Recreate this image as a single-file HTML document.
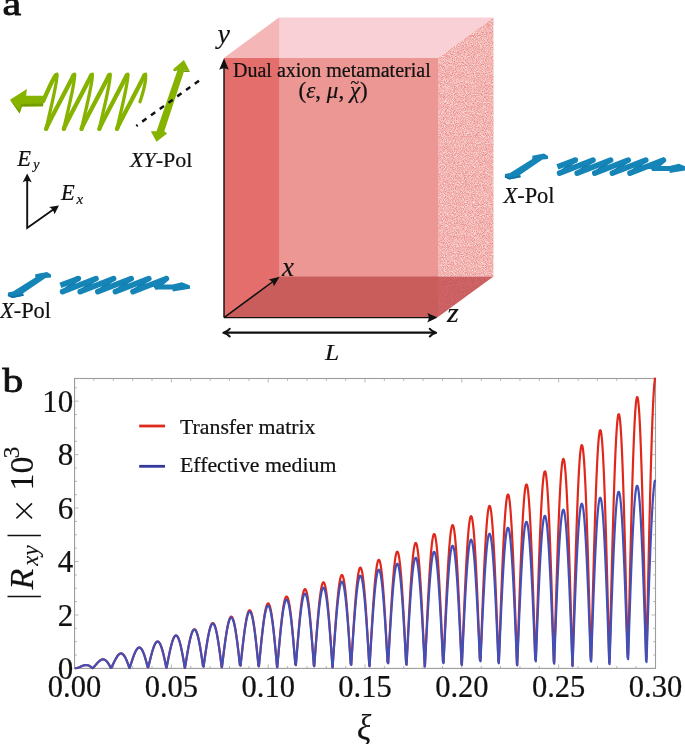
<!DOCTYPE html>
<html><head><meta charset="utf-8"><style>
html,body{margin:0;padding:0;background:#fff;}
body{width:685px;height:744px;overflow:hidden;}
svg{display:block;will-change:transform;}
text{font-family:"Liberation Serif",serif;fill:#111;stroke:#111;stroke-width:0.22px;}
.it{font-style:italic;}
.m, .m text{stroke-width:0.15px;}
</style></head><body>
<svg width="685" height="744" viewBox="0 0 685 744">
<defs>
<filter id="speck" x="0" y="0" width="1" height="1" color-interpolation-filters="sRGB">
 <feTurbulence type="fractalNoise" baseFrequency="1.1" numOctaves="2" seed="7" result="n"/>
 <feColorMatrix in="n" type="matrix" values="0.15 0 0 0 0.875  0.6 0 0 0 0.41  0.6 0 0 0 0.40  0 0 0 0 1" result="c"/>
 <feComposite in="c" in2="SourceGraphic" operator="in"/>
</filter>
<filter id="speck2" x="0" y="0" width="1" height="1" color-interpolation-filters="sRGB">
 <feTurbulence type="fractalNoise" baseFrequency="1.1" numOctaves="2" seed="9" result="n"/>
 <feColorMatrix in="n" type="matrix" values="0.12 0 0 0 0.74  0.14 0 0 0 0.31  0.14 0 0 0 0.32  0 0 0 0 1" result="c"/>
 <feComposite in="c" in2="SourceGraphic" operator="in"/>
</filter>
<clipPath id="plotclip"><rect x="74.55" y="377.5" width="581.45" height="291.9"/></clipPath>
<g id="bluegrp">
 <path d="M7.9,292.4 L13,291.6 L35.3,277.4 L35.3,274.2 L47,272 L51,274.6 L51,277.6 L45.5,278.1 L23.2,293.2 L23.6,295.7 L12.3,297.9 L7.9,296.1 Z" fill="#1584b7"/>
 <path d="M7.9,296.1 L12.3,297.9 L23.6,295.7 L23.4,294.2 L12.3,296.3 L7.9,294.5Z" fill="#0f72a2"/>
 <path d="M78.6,278.6 L62.9,291.5 M96.2,278.6 L80.5,291.5 M113.8,278.6 L98.1,291.5 M131.4,278.6 L115.7,291.5 M149.0,278.6 L133.3,291.5" fill="none" stroke="#1179aa" stroke-width="3.5" stroke-linecap="round"/>
 <path d="M62.6,291.7 L96.0,278.6 M80.2,291.7 L113.6,278.6 M97.8,291.7 L131.2,278.6 M115.4,291.7 L148.8,278.6 M133.0,291.7 L166.4,278.6 M166.1,278.8 L156.8,286.6" fill="none" stroke="#1584b7" stroke-width="5.6" stroke-linejoin="round" stroke-linecap="round"/>
 <path d="M60.4,285.3 L78.3,278.6" fill="none" stroke="#1584b7" stroke-width="5.6" stroke-linecap="butt"/>
 <circle cx="78.3" cy="278.6" r="2.8" fill="#1584b7"/>
 <path d="M155,284.6 L172.6,284.4 L181.9,282.2 L190,285.5 L190,288.8 L172.6,291.5 L172.6,289.4 L155,289.6 Z" fill="#1584b7"/>
</g>
</defs>

<!-- ===== panel a ===== -->
<text x="2.4" y="15.2" transform="translate(2.4,0) scale(1.24,1) translate(-2.4,0)" style="font-size:34px;stroke:#111;stroke-width:0.8px">a</text>

<!-- box -->
<polygon points="224,58 279.1,17.5 493.5,17.5 438,58" fill="#f9d0d5"/>
<polygon points="224,58 279.1,17.5 279.1,58" fill="#f4b6b7"/>
<rect x="224" y="58" width="214" height="259" fill="#ec9794"/>
<polygon points="224,58 279.1,58 279.1,276.5 224,317" fill="#e46e6b"/>
<polygon points="224,317 279.1,276.5 438,276.5 438,317" fill="#c95d5b"/>
<polygon points="438,58 493.5,17.5 493.5,276.5 438,276.5" fill="#f2b8b9" filter="url(#speck)"/>
<polygon points="438,276.5 493.5,276.5 438,317" fill="#cc6262" filter="url(#speck2)"/>

<!-- axes on box -->
<g stroke="#111" stroke-width="1.45" fill="none">
<line x1="224" y1="317.6" x2="224" y2="64"/>
<line x1="224" y1="317.6" x2="432" y2="317.6"/>
<line x1="224" y1="317.6" x2="275" y2="280"/>
<line x1="226" y1="332.7" x2="434" y2="332.7" stroke-width="2.3"/>
<path d="M429.8,328.9 Q432.2,331.7 436.1,332.7 Q432.2,333.7 429.8,336.5" stroke-width="2.1" stroke-linecap="round" stroke-linejoin="round"/>
<path d="M229.7,328.9 Q227.3,331.7 223.4,332.7 Q227.3,333.7 229.7,336.5" stroke-width="2.1" stroke-linecap="round" stroke-linejoin="round"/>
</g>
<g fill="#111">
<path d="M224,58.3 L219.2,69.8 Q224,66.5 228.8,69.8 Z"/>
<path d="M437.6,317.6 L427.2,312.9 Q430.3,317.6 427.2,322.5 Z"/>
<path d="M279.6,276.7 L268.8,279.6 Q273.6,281.8 273.8,286.6 Z"/>
</g>
<text class="it m" x="217.6" y="43" style="font-size:28px">y</text>
<text class="it m" x="282" y="275.6" style="font-size:27px">x</text>
<text class="it m" x="447" y="322" transform="translate(447,0) scale(1.12,1) translate(-447,0)" style="font-size:27px">z</text>
<text class="it m" x="325" y="359.7" transform="translate(325,0) scale(1.13,1) translate(-325,0)" style="font-size:22.5px">L</text>
<text x="233" y="76.7" style="font-size:20px">Dual axion metamaterial</text>
<text x="298.6" y="97.6" style="font-size:23px">(<tspan class="it">ε</tspan>, <tspan class="it">μ</tspan>, <tspan class="it">χ</tspan>)</text>
<text x="350.6" y="88.4" style="font-size:16px">~</text>

<!-- green wave -->
<polygon points="10,99.7 26.9,89.1 26.2,95.7 44,95.7 43,106.3 21.8,106.6 19.6,113.6" fill="#86b300"/>
<polygon points="10,99.7 19.6,113.6 21.8,106.6 43,106.3 43.3,103.6 21,104 19.4,110.4" fill="#739c00"/>
<g fill="none" stroke="#86b300" stroke-linecap="round">
<path d="M43.2,101 C47,93 52,80 55.7,75.4 M46.1,128.9 C47.1,124.9 70.6,82.2 73.4,75.4 M63.8,128.9 C64.8,124.9 88.3,82.2 91.1,75.4 M81.5,128.9 C82.5,124.9 106.1,82.2 108.9,75.4 M99.3,128.9 C100.3,124.9 123.8,82.2 126.6,75.4 M117.0,128.9 C118.0,124.9 141.5,82.2 144.3,75.4" stroke-width="4.3"/>
<path d="M56.9,74.2 C58.1,80.2 49.1,114.9 46.1,128.9 M74.6,74.2 C75.8,80.2 66.8,114.9 63.8,128.9 M92.3,74.2 C93.5,80.2 84.5,114.9 81.5,128.9 M110.1,74.2 C111.3,80.2 102.3,114.9 99.3,128.9 M127.8,74.2 C129.0,80.2 120.0,114.9 117.0,128.9 M145.5,74.2 C146.3,79.2 143.5,91.2 140,101.8" stroke-width="3.3"/>
</g>
<g fill="#86b300"><circle cx="56.5" cy="75.1" r="2.05"/><circle cx="74.2" cy="75.1" r="2.05"/><circle cx="91.9" cy="75.1" r="2.05"/><circle cx="109.7" cy="75.1" r="2.05"/><circle cx="127.4" cy="75.1" r="2.05"/><circle cx="145.1" cy="75.1" r="2.05"/><circle cx="46.5" cy="128.0" r="1.9"/><circle cx="64.2" cy="128.0" r="1.9"/><circle cx="81.9" cy="128.0" r="1.9"/><circle cx="99.7" cy="128.0" r="1.9"/><circle cx="117.4" cy="128.0" r="1.9"/></g>
<!-- green double arrow -->
<polygon points="183.9,60.1 189.5,70.5 184.3,70.6 164.3,131.2 167.1,133.6 156.5,141.8 150.8,131.2 156.5,131.2 177.4,70.6 173.1,69.3" fill="#86b300"/>
<polygon points="173.1,69.3 177.4,70.6 174,71.2" fill="#6f9800"/>
<polygon points="184.3,70.6 189.5,70.5 189.6,72 184,72" fill="#6f9800"/>
<line x1="136.3" y1="125.9" x2="199" y2="80.7" stroke="#111" stroke-width="2.5" stroke-dasharray="5.2 5.6" stroke-dashoffset="3.5"/>
<text x="130" y="166.9" style="font-size:22px"><tspan class="it">XY</tspan>-Pol</text>

<!-- E axes -->
<g stroke="#111" stroke-width="1.9" fill="none">
<polyline points="27.2,180 27.2,228 54,209"/>
</g>
<g fill="#111">
<path d="M27.2,173.6 L22.6,182.4 Q27.2,179.6 31.8,182.4 Z"/>
<path d="M59,205.6 L49.2,206.9 Q53.6,209.2 54.5,214.2 Z"/>
</g>
<text class="it" x="17.2" y="166" style="font-size:22.5px">E</text>
<text class="it" x="33.2" y="168.8" style="font-size:14px">y</text>
<text class="it" x="61" y="200" style="font-size:22.5px">E</text>
<text class="it" x="76.6" y="203.6" style="font-size:15px">x</text>

<!-- blue groups -->
<use href="#bluegrp"/>
<use href="#bluegrp" transform="translate(497,-118.5)"/>
<text x="0" y="317.8" style="font-size:22.4px"><tspan class="it">X</tspan>-Pol</text>
<text x="503.5" y="202.5" style="font-size:22.4px"><tspan class="it">X</tspan>-Pol</text>

<!-- ===== panel b ===== -->
<text x="2.4" y="391.7" transform="translate(2.4,0) scale(1.26,1) translate(-2.4,0)" style="font-size:33px;stroke:#111;stroke-width:0.8px">b</text>
<g stroke="#b8b8b8" stroke-width="1">
<line x1="74.55" y1="668.40" x2="78.55" y2="668.40"/>
<line x1="655.5" y1="668.40" x2="651.5" y2="668.40"/>
<line x1="74.55" y1="655.04" x2="76.95" y2="655.04"/>
<line x1="655.5" y1="655.04" x2="653.1" y2="655.04"/>
<line x1="74.55" y1="641.68" x2="76.95" y2="641.68"/>
<line x1="655.5" y1="641.68" x2="653.1" y2="641.68"/>
<line x1="74.55" y1="628.32" x2="76.95" y2="628.32"/>
<line x1="655.5" y1="628.32" x2="653.1" y2="628.32"/>
<line x1="74.55" y1="614.96" x2="78.55" y2="614.96"/>
<line x1="655.5" y1="614.96" x2="651.5" y2="614.96"/>
<line x1="74.55" y1="601.60" x2="76.95" y2="601.60"/>
<line x1="655.5" y1="601.60" x2="653.1" y2="601.60"/>
<line x1="74.55" y1="588.24" x2="76.95" y2="588.24"/>
<line x1="655.5" y1="588.24" x2="653.1" y2="588.24"/>
<line x1="74.55" y1="574.88" x2="76.95" y2="574.88"/>
<line x1="655.5" y1="574.88" x2="653.1" y2="574.88"/>
<line x1="74.55" y1="561.52" x2="78.55" y2="561.52"/>
<line x1="655.5" y1="561.52" x2="651.5" y2="561.52"/>
<line x1="74.55" y1="548.16" x2="76.95" y2="548.16"/>
<line x1="655.5" y1="548.16" x2="653.1" y2="548.16"/>
<line x1="74.55" y1="534.80" x2="76.95" y2="534.80"/>
<line x1="655.5" y1="534.80" x2="653.1" y2="534.80"/>
<line x1="74.55" y1="521.44" x2="76.95" y2="521.44"/>
<line x1="655.5" y1="521.44" x2="653.1" y2="521.44"/>
<line x1="74.55" y1="508.08" x2="78.55" y2="508.08"/>
<line x1="655.5" y1="508.08" x2="651.5" y2="508.08"/>
<line x1="74.55" y1="494.72" x2="76.95" y2="494.72"/>
<line x1="655.5" y1="494.72" x2="653.1" y2="494.72"/>
<line x1="74.55" y1="481.36" x2="76.95" y2="481.36"/>
<line x1="655.5" y1="481.36" x2="653.1" y2="481.36"/>
<line x1="74.55" y1="468.00" x2="76.95" y2="468.00"/>
<line x1="655.5" y1="468.00" x2="653.1" y2="468.00"/>
<line x1="74.55" y1="454.64" x2="78.55" y2="454.64"/>
<line x1="655.5" y1="454.64" x2="651.5" y2="454.64"/>
<line x1="74.55" y1="441.28" x2="76.95" y2="441.28"/>
<line x1="655.5" y1="441.28" x2="653.1" y2="441.28"/>
<line x1="74.55" y1="427.92" x2="76.95" y2="427.92"/>
<line x1="655.5" y1="427.92" x2="653.1" y2="427.92"/>
<line x1="74.55" y1="414.56" x2="76.95" y2="414.56"/>
<line x1="655.5" y1="414.56" x2="653.1" y2="414.56"/>
<line x1="74.55" y1="401.20" x2="78.55" y2="401.20"/>
<line x1="655.5" y1="401.20" x2="651.5" y2="401.20"/>
<line x1="74.55" y1="387.84" x2="76.95" y2="387.84"/>
<line x1="655.5" y1="387.84" x2="653.1" y2="387.84"/>
<line x1="74.55" y1="668.4" x2="74.55" y2="664.4"/>
<line x1="74.55" y1="378.5" x2="74.55" y2="382.5"/>
<line x1="93.91" y1="668.4" x2="93.91" y2="666.0"/>
<line x1="93.91" y1="378.5" x2="93.91" y2="380.9"/>
<line x1="113.28" y1="668.4" x2="113.28" y2="666.0"/>
<line x1="113.28" y1="378.5" x2="113.28" y2="380.9"/>
<line x1="132.65" y1="668.4" x2="132.65" y2="666.0"/>
<line x1="132.65" y1="378.5" x2="132.65" y2="380.9"/>
<line x1="152.01" y1="668.4" x2="152.01" y2="666.0"/>
<line x1="152.01" y1="378.5" x2="152.01" y2="380.9"/>
<line x1="171.38" y1="668.4" x2="171.38" y2="664.4"/>
<line x1="171.38" y1="378.5" x2="171.38" y2="382.5"/>
<line x1="190.74" y1="668.4" x2="190.74" y2="666.0"/>
<line x1="190.74" y1="378.5" x2="190.74" y2="380.9"/>
<line x1="210.11" y1="668.4" x2="210.11" y2="666.0"/>
<line x1="210.11" y1="378.5" x2="210.11" y2="380.9"/>
<line x1="229.47" y1="668.4" x2="229.47" y2="666.0"/>
<line x1="229.47" y1="378.5" x2="229.47" y2="380.9"/>
<line x1="248.84" y1="668.4" x2="248.84" y2="666.0"/>
<line x1="248.84" y1="378.5" x2="248.84" y2="380.9"/>
<line x1="268.20" y1="668.4" x2="268.20" y2="664.4"/>
<line x1="268.20" y1="378.5" x2="268.20" y2="382.5"/>
<line x1="287.56" y1="668.4" x2="287.56" y2="666.0"/>
<line x1="287.56" y1="378.5" x2="287.56" y2="380.9"/>
<line x1="306.93" y1="668.4" x2="306.93" y2="666.0"/>
<line x1="306.93" y1="378.5" x2="306.93" y2="380.9"/>
<line x1="326.30" y1="668.4" x2="326.30" y2="666.0"/>
<line x1="326.30" y1="378.5" x2="326.30" y2="380.9"/>
<line x1="345.66" y1="668.4" x2="345.66" y2="666.0"/>
<line x1="345.66" y1="378.5" x2="345.66" y2="380.9"/>
<line x1="365.03" y1="668.4" x2="365.03" y2="664.4"/>
<line x1="365.03" y1="378.5" x2="365.03" y2="382.5"/>
<line x1="384.39" y1="668.4" x2="384.39" y2="666.0"/>
<line x1="384.39" y1="378.5" x2="384.39" y2="380.9"/>
<line x1="403.76" y1="668.4" x2="403.76" y2="666.0"/>
<line x1="403.76" y1="378.5" x2="403.76" y2="380.9"/>
<line x1="423.12" y1="668.4" x2="423.12" y2="666.0"/>
<line x1="423.12" y1="378.5" x2="423.12" y2="380.9"/>
<line x1="442.49" y1="668.4" x2="442.49" y2="666.0"/>
<line x1="442.49" y1="378.5" x2="442.49" y2="380.9"/>
<line x1="461.85" y1="668.4" x2="461.85" y2="664.4"/>
<line x1="461.85" y1="378.5" x2="461.85" y2="382.5"/>
<line x1="481.22" y1="668.4" x2="481.22" y2="666.0"/>
<line x1="481.22" y1="378.5" x2="481.22" y2="380.9"/>
<line x1="500.58" y1="668.4" x2="500.58" y2="666.0"/>
<line x1="500.58" y1="378.5" x2="500.58" y2="380.9"/>
<line x1="519.95" y1="668.4" x2="519.95" y2="666.0"/>
<line x1="519.95" y1="378.5" x2="519.95" y2="380.9"/>
<line x1="539.31" y1="668.4" x2="539.31" y2="666.0"/>
<line x1="539.31" y1="378.5" x2="539.31" y2="380.9"/>
<line x1="558.68" y1="668.4" x2="558.68" y2="664.4"/>
<line x1="558.68" y1="378.5" x2="558.68" y2="382.5"/>
<line x1="578.04" y1="668.4" x2="578.04" y2="666.0"/>
<line x1="578.04" y1="378.5" x2="578.04" y2="380.9"/>
<line x1="597.41" y1="668.4" x2="597.41" y2="666.0"/>
<line x1="597.41" y1="378.5" x2="597.41" y2="380.9"/>
<line x1="616.77" y1="668.4" x2="616.77" y2="666.0"/>
<line x1="616.77" y1="378.5" x2="616.77" y2="380.9"/>
<line x1="636.13" y1="668.4" x2="636.13" y2="666.0"/>
<line x1="636.13" y1="378.5" x2="636.13" y2="380.9"/>
<line x1="655.50" y1="668.4" x2="655.50" y2="664.4"/>
<line x1="655.50" y1="378.5" x2="655.50" y2="382.5"/>
</g>
<rect x="74.55" y="378.5" width="580.95" height="289.90" fill="none" stroke="#9c9c9c" stroke-width="1.1"/>
<g clip-path="url(#plotclip)" fill="none" stroke-width="2.2" stroke-linejoin="round">
<path d="M74.55,668.40 L74.80,668.39 L75.05,668.37 L75.30,668.35 L75.55,668.32 L75.80,668.29 L76.05,668.24 L76.30,668.20 L76.55,668.14 L76.80,668.08 L77.05,668.01 L77.30,667.94 L77.55,667.87 L77.80,667.79 L78.05,667.70 L78.30,667.61 L78.55,667.52 L78.80,667.42 L79.05,667.32 L79.30,667.22 L79.55,667.11 L79.80,667.00 L80.05,666.89 L80.30,666.78 L80.55,666.67 L80.80,666.56 L81.05,666.46 L81.30,666.35 L81.55,666.24 L81.80,666.13 L82.05,666.03 L82.30,665.93 L82.55,665.83 L82.80,665.74 L83.05,665.65 L83.30,665.56 L83.55,665.48 L83.80,665.41 L84.05,665.34 L84.30,665.28 L84.55,665.22 L84.80,665.18 L85.05,665.14 L85.30,665.10 L85.55,665.08 L85.80,665.06 L86.05,665.05 L86.30,665.06 L86.55,665.07 L86.80,665.09 L87.05,665.12 L87.30,665.16 L87.55,665.21 L87.80,665.27 L88.05,665.34 L88.30,665.42 L88.55,665.52 L88.80,665.62 L89.05,665.73 L89.30,665.86 L89.55,665.99 L89.80,666.13 L90.05,666.29 L90.30,666.45 L90.55,666.63 L90.80,666.81 L91.05,667.01 L91.30,667.21 L91.55,667.42 L91.80,667.64 L92.52,668.32 L92.66,668.34 L93.30,667.67 L93.55,667.41 L93.80,667.13 L94.05,666.85 L94.30,666.57 L94.55,666.28 L94.80,666.00 L95.05,665.71 L95.30,665.41 L95.55,665.12 L95.80,664.83 L96.05,664.54 L96.30,664.24 L96.55,663.96 L96.80,663.67 L97.05,663.39 L97.30,663.11 L97.55,662.83 L97.80,662.56 L98.05,662.30 L98.30,662.05 L98.55,661.80 L98.80,661.56 L99.05,661.33 L99.30,661.11 L99.55,660.90 L99.80,660.70 L100.05,660.51 L100.30,660.33 L100.55,660.17 L100.80,660.02 L101.05,659.88 L101.30,659.76 L101.55,659.66 L101.80,659.57 L102.05,659.49 L102.30,659.43 L102.55,659.39 L102.80,659.37 L103.05,659.36 L103.30,659.37 L103.55,659.40 L103.80,659.45 L104.05,659.51 L104.30,659.60 L104.55,659.70 L104.80,659.82 L105.05,659.97 L105.30,660.13 L105.55,660.30 L105.80,660.50 L106.05,660.72 L106.30,660.95 L106.55,661.20 L106.80,661.47 L107.05,661.76 L107.30,662.07 L107.55,662.39 L107.80,662.73 L108.05,663.09 L108.30,663.46 L108.55,663.84 L108.80,664.24 L109.05,664.66 L109.30,665.09 L109.55,665.53 L109.80,665.98 L110.05,666.44 L110.30,666.92 L110.78,667.85 L111.28,667.95 L111.80,666.87 L112.05,666.35 L112.30,665.82 L112.55,665.30 L112.80,664.77 L113.05,664.24 L113.30,663.71 L113.55,663.19 L113.80,662.67 L114.05,662.15 L114.30,661.64 L114.55,661.13 L114.80,660.63 L115.05,660.14 L115.30,659.66 L115.55,659.19 L115.80,658.74 L116.05,658.29 L116.30,657.86 L116.55,657.44 L116.80,657.04 L117.05,656.66 L117.30,656.29 L117.55,655.94 L117.80,655.61 L118.05,655.30 L118.30,655.02 L118.55,654.75 L118.80,654.51 L119.05,654.29 L119.30,654.10 L119.55,653.93 L119.80,653.78 L120.05,653.66 L120.30,653.57 L120.55,653.50 L120.80,653.47 L121.05,653.45 L121.30,653.47 L121.55,653.52 L121.80,653.59 L122.05,653.69 L122.30,653.82 L122.55,653.98 L122.80,654.17 L123.05,654.39 L123.30,654.64 L123.55,654.91 L123.80,655.21 L124.05,655.54 L124.30,655.90 L124.55,656.28 L124.80,656.69 L125.05,657.13 L125.30,657.59 L125.55,658.08 L125.80,658.59 L126.05,659.12 L126.30,659.68 L126.55,660.26 L126.80,660.86 L127.05,661.48 L127.30,662.12 L127.55,662.77 L127.80,663.44 L128.05,664.13 L128.30,664.83 L128.55,665.55 L128.80,666.28 L129.36,667.93 L129.64,668.02 L130.30,665.98 L130.55,665.21 L130.80,664.43 L131.05,663.66 L131.30,662.88 L131.55,662.11 L131.80,661.35 L132.05,660.59 L132.30,659.84 L132.55,659.10 L132.80,658.37 L133.05,657.65 L133.30,656.95 L133.55,656.26 L133.80,655.59 L134.05,654.94 L134.30,654.30 L134.55,653.69 L134.80,653.10 L135.05,652.53 L135.30,651.99 L135.55,651.47 L135.80,650.98 L136.05,650.52 L136.30,650.08 L136.55,649.68 L136.80,649.31 L137.05,648.97 L137.30,648.67 L137.55,648.39 L137.80,648.16 L138.05,647.96 L138.30,647.79 L138.55,647.66 L138.80,647.57 L139.05,647.52 L139.30,647.50 L139.55,647.53 L139.80,647.59 L140.05,647.69 L140.30,647.83 L140.55,648.01 L140.80,648.23 L141.05,648.49 L141.30,648.78 L141.55,649.12 L141.80,649.49 L142.05,649.90 L142.30,650.35 L142.55,650.83 L142.80,651.35 L143.05,651.91 L143.30,652.50 L143.55,653.12 L143.80,653.78 L144.05,654.46 L144.30,655.18 L144.55,655.93 L144.80,656.71 L145.05,657.51 L145.30,658.34 L145.55,659.19 L145.80,660.07 L146.05,660.97 L146.30,661.88 L146.55,662.82 L146.80,663.77 L147.05,664.74 L147.30,665.72 L147.61,666.98 L148.25,667.25 L148.80,665.00 L149.05,663.98 L149.30,662.95 L149.55,661.93 L149.80,660.92 L150.05,659.91 L150.30,658.91 L150.55,657.92 L150.80,656.94 L151.05,655.98 L151.30,655.03 L151.55,654.10 L151.80,653.19 L152.05,652.31 L152.30,651.45 L152.55,650.61 L152.80,649.80 L153.05,649.02 L153.30,648.27 L153.55,647.55 L153.80,646.87 L154.05,646.22 L154.30,645.61 L154.55,645.03 L154.80,644.50 L155.05,644.00 L155.30,643.55 L155.55,643.14 L155.80,642.78 L156.05,642.45 L156.30,642.18 L156.55,641.95 L156.80,641.77 L157.05,641.63 L157.30,641.54 L157.55,641.51 L157.80,641.52 L158.05,641.58 L158.30,641.69 L158.55,641.85 L158.80,642.06 L159.05,642.32 L159.30,642.63 L159.55,642.99 L159.80,643.39 L160.05,643.85 L160.30,644.35 L160.55,644.90 L160.80,645.49 L161.05,646.14 L161.30,646.82 L161.55,647.55 L161.80,648.32 L162.05,649.14 L162.30,649.99 L162.55,650.88 L162.80,651.81 L163.05,652.78 L163.30,653.78 L163.55,654.81 L163.80,655.87 L164.05,656.96 L164.30,658.08 L164.55,659.22 L164.80,660.39 L165.05,661.58 L165.30,662.79 L165.55,664.01 L165.80,665.25 L166.19,667.23 L166.61,667.46 L167.05,665.21 L167.30,663.93 L167.55,662.65 L167.80,661.37 L168.05,660.10 L168.30,658.84 L168.55,657.58 L168.80,656.34 L169.05,655.12 L169.30,653.92 L169.55,652.73 L169.80,651.57 L170.05,650.43 L170.30,649.32 L170.55,648.23 L170.80,647.18 L171.05,646.16 L171.30,645.18 L171.55,644.23 L171.80,643.33 L172.05,642.46 L172.30,641.64 L172.55,640.86 L172.80,640.13 L173.05,639.44 L173.30,638.81 L173.55,638.22 L173.80,637.69 L174.05,637.21 L174.30,636.79 L174.55,636.42 L174.80,636.11 L175.05,635.86 L175.30,635.66 L175.55,635.52 L175.80,635.45 L176.05,635.43 L176.30,635.47 L176.55,635.57 L176.80,635.74 L177.05,635.96 L177.30,636.25 L177.55,636.59 L177.80,636.99 L178.05,637.46 L178.30,637.98 L178.55,638.56 L178.80,639.20 L179.05,639.89 L179.30,640.64 L179.55,641.45 L179.80,642.30 L180.05,643.21 L180.30,644.17 L180.55,645.18 L180.80,646.24 L181.05,647.34 L181.30,648.48 L181.55,649.67 L181.80,650.89 L182.05,652.16 L182.30,653.46 L182.55,654.79 L182.80,656.16 L183.05,657.55 L183.30,658.97 L183.55,660.41 L183.80,661.88 L184.05,663.36 L184.77,667.73 L184.97,667.87 L185.55,664.29 L185.80,662.75 L186.05,661.22 L186.30,659.69 L186.55,658.17 L186.80,656.66 L187.05,655.16 L187.30,653.69 L187.55,652.23 L187.80,650.80 L188.05,649.39 L188.30,648.01 L188.55,646.66 L188.80,645.34 L189.05,644.06 L189.30,642.82 L189.55,641.63 L189.80,640.47 L190.05,639.36 L190.30,638.30 L190.55,637.29 L190.80,636.33 L191.05,635.42 L191.30,634.57 L191.55,633.78 L191.80,633.05 L192.05,632.38 L192.30,631.77 L192.55,631.23 L192.80,630.75 L193.05,630.34 L193.30,630.00 L193.55,629.72 L193.80,629.52 L194.05,629.38 L194.30,629.32 L194.55,629.32 L194.80,629.40 L195.05,629.55 L195.30,629.77 L195.55,630.06 L195.80,630.42 L196.05,630.86 L196.30,631.36 L196.55,631.93 L196.80,632.58 L197.05,633.29 L197.30,634.06 L197.55,634.91 L197.80,635.81 L198.05,636.78 L198.30,637.82 L198.55,638.91 L198.80,640.06 L199.05,641.27 L199.30,642.53 L199.55,643.84 L199.80,645.21 L200.05,646.62 L200.30,648.07 L200.55,649.57 L200.80,651.11 L201.05,652.69 L201.30,654.30 L201.55,655.95 L201.80,657.62 L202.05,659.32 L202.30,661.05 L202.55,662.79 L203.03,666.21 L203.58,666.64 L204.05,663.28 L204.30,661.48 L204.55,659.69 L204.80,657.90 L205.05,656.13 L205.30,654.37 L205.55,652.63 L205.80,650.92 L206.05,649.22 L206.30,647.56 L206.55,645.93 L206.80,644.33 L207.05,642.77 L207.30,641.25 L207.55,639.77 L207.80,638.34 L208.05,636.96 L208.30,635.63 L208.55,634.35 L208.80,633.13 L209.05,631.97 L209.30,630.88 L209.55,629.84 L209.80,628.88 L210.05,627.98 L210.30,627.15 L210.55,626.39 L210.80,625.71 L211.05,625.10 L211.30,624.57 L211.55,624.12 L211.80,623.74 L212.05,623.45 L212.30,623.23 L212.55,623.10 L212.80,623.05 L213.05,623.08 L213.30,623.20 L213.55,623.40 L213.80,623.67 L214.05,624.04 L214.30,624.48 L214.55,625.01 L214.80,625.61 L215.05,626.30 L215.30,627.07 L215.55,627.91 L215.80,628.83 L216.05,629.83 L216.30,630.90 L216.55,632.04 L216.80,633.26 L217.05,634.54 L217.30,635.89 L217.55,637.30 L217.80,638.77 L218.05,640.31 L218.30,641.90 L218.55,643.54 L218.80,645.24 L219.05,646.98 L219.30,648.77 L219.55,650.60 L219.80,652.47 L220.05,654.38 L220.30,656.32 L220.55,658.28 L220.80,660.28 L221.05,662.29 L221.61,666.88 L221.94,667.18 L222.55,662.16 L222.80,660.10 L223.05,658.04 L223.30,655.99 L223.55,653.96 L223.80,651.95 L224.05,649.96 L224.30,648.00 L224.55,646.07 L224.80,644.17 L225.05,642.31 L225.30,640.49 L225.55,638.71 L225.80,636.98 L226.05,635.31 L226.30,633.68 L226.55,632.12 L226.80,630.62 L227.05,629.17 L227.30,627.80 L227.55,626.50 L227.80,625.26 L228.05,624.10 L228.30,623.02 L228.55,622.02 L228.80,621.09 L229.05,620.26 L229.30,619.50 L229.55,618.83 L229.80,618.25 L230.05,617.76 L230.30,617.36 L230.55,617.05 L230.80,616.83 L231.05,616.71 L231.30,616.68 L231.55,616.74 L231.80,616.90 L232.05,617.15 L232.30,617.50 L232.55,617.94 L232.80,618.47 L233.05,619.09 L233.30,619.81 L233.55,620.62 L233.80,621.52 L234.05,622.50 L234.30,623.58 L234.55,624.73 L234.80,625.97 L235.05,627.30 L235.30,628.70 L235.55,630.17 L235.80,631.73 L236.05,633.35 L236.30,635.04 L236.55,636.80 L236.80,638.63 L237.05,640.51 L237.30,642.45 L237.55,644.44 L237.80,646.48 L238.05,648.57 L238.30,650.71 L238.55,652.88 L238.80,655.08 L239.05,657.32 L239.30,659.59 L239.55,661.88 L239.87,664.84 L240.56,665.54 L241.05,660.94 L241.30,658.60 L241.55,656.28 L241.80,653.97 L242.05,651.68 L242.30,649.41 L242.55,647.17 L242.80,644.96 L243.05,642.79 L243.30,640.66 L243.55,638.57 L243.80,636.53 L244.05,634.54 L244.30,632.60 L244.55,630.72 L244.80,628.91 L245.05,627.16 L245.30,625.49 L245.55,623.88 L245.80,622.35 L246.05,620.90 L246.30,619.54 L246.55,618.25 L246.80,617.06 L247.05,615.95 L247.30,614.94 L247.55,614.02 L247.80,613.19 L248.05,612.47 L248.30,611.84 L248.55,611.31 L248.80,610.89 L249.05,610.57 L249.30,610.35 L249.55,610.24 L249.80,610.23 L250.05,610.33 L250.30,610.53 L250.55,610.84 L250.80,611.25 L251.05,611.77 L251.30,612.40 L251.55,613.12 L251.80,613.95 L252.05,614.88 L252.30,615.91 L252.55,617.04 L252.80,618.27 L253.05,619.59 L253.30,621.01 L253.55,622.51 L253.80,624.10 L254.05,625.78 L254.30,627.54 L254.55,629.38 L254.80,631.30 L255.05,633.29 L255.30,635.35 L255.55,637.48 L255.80,639.67 L256.05,641.92 L256.30,644.22 L256.55,646.57 L256.80,648.97 L257.05,651.42 L257.30,653.90 L257.55,656.42 L257.80,658.96 L258.05,661.53 L258.45,665.68 L258.92,666.22 L259.55,659.59 L259.80,656.98 L260.05,654.38 L260.30,651.80 L260.55,649.24 L260.80,646.70 L261.05,644.20 L261.30,641.74 L261.55,639.32 L261.80,636.94 L262.05,634.61 L262.30,632.34 L262.55,630.13 L262.80,627.98 L263.05,625.90 L263.30,623.88 L263.55,621.95 L263.80,620.09 L264.05,618.31 L264.30,616.62 L264.55,615.02 L264.80,613.51 L265.05,612.10 L265.30,610.78 L265.55,609.57 L265.80,608.46 L266.05,607.45 L266.30,606.55 L266.55,605.77 L266.80,605.09 L267.05,604.53 L267.30,604.08 L267.55,603.75 L267.80,603.53 L268.05,603.43 L268.30,603.45 L268.55,603.58 L268.80,603.84 L269.05,604.21 L269.30,604.70 L269.55,605.31 L269.80,606.03 L270.05,606.87 L270.30,607.83 L270.55,608.89 L270.80,610.07 L271.05,611.35 L271.30,612.75 L271.55,614.25 L271.80,615.85 L272.05,617.55 L272.30,619.35 L272.55,621.24 L272.80,623.22 L273.05,625.30 L273.30,627.45 L273.55,629.69 L273.80,632.00 L274.05,634.38 L274.30,636.84 L274.55,639.36 L274.80,641.93 L275.05,644.57 L275.30,647.25 L275.55,649.98 L275.80,652.75 L276.05,655.55 L276.30,658.39 L276.55,661.25 L277.03,666.80 L277.28,667.12 L277.80,661.02 L278.05,658.11 L278.30,655.21 L278.55,652.33 L278.80,649.47 L279.05,646.63 L279.30,643.83 L279.55,641.06 L279.80,638.34 L280.05,635.66 L280.30,633.03 L280.55,630.46 L280.80,627.96 L281.05,625.52 L281.30,623.15 L281.55,620.86 L281.80,618.65 L282.05,616.52 L282.30,614.48 L282.55,612.53 L282.80,610.68 L283.05,608.93 L283.30,607.28 L283.55,605.74 L283.80,604.31 L284.05,602.99 L284.30,601.79 L284.55,600.71 L284.80,599.74 L285.05,598.90 L285.30,598.18 L285.55,597.58 L285.80,597.12 L286.05,596.78 L286.30,596.57 L286.55,596.49 L286.80,596.53 L287.05,596.71 L287.30,597.02 L287.55,597.46 L287.80,598.03 L288.05,598.72 L288.30,599.55 L288.55,600.50 L288.80,601.58 L289.05,602.79 L289.30,604.11 L289.55,605.56 L289.80,607.13 L290.05,608.81 L290.30,610.60 L290.55,612.50 L290.80,614.51 L291.05,616.63 L291.30,618.84 L291.55,621.15 L291.80,623.55 L292.05,626.04 L292.30,628.61 L292.55,631.26 L292.80,633.99 L293.05,636.78 L293.30,639.65 L293.55,642.57 L293.80,645.54 L294.05,648.57 L294.30,651.64 L294.55,654.74 L294.80,657.88 L295.29,664.10 L295.89,664.94 L296.30,659.69 L296.55,656.48 L296.80,653.28 L297.05,650.10 L297.30,646.95 L297.55,643.82 L297.80,640.74 L298.05,637.69 L298.30,634.69 L298.55,631.75 L298.80,628.86 L299.05,626.04 L299.30,623.29 L299.55,620.61 L299.80,618.01 L300.05,615.50 L300.30,613.08 L300.55,610.75 L300.80,608.52 L301.05,606.39 L301.30,604.37 L301.55,602.46 L301.80,600.66 L302.05,598.99 L302.30,597.43 L302.55,596.00 L302.80,594.70 L303.05,593.53 L303.30,592.49 L303.55,591.59 L303.80,590.82 L304.05,590.19 L304.30,589.70 L304.55,589.36 L304.80,589.16 L305.05,589.11 L305.30,589.20 L305.55,589.44 L305.80,589.82 L306.05,590.35 L306.30,591.01 L306.55,591.82 L306.80,592.77 L307.05,593.86 L307.30,595.09 L307.55,596.45 L307.80,597.95 L308.05,599.58 L308.30,601.34 L308.55,603.22 L308.80,605.23 L309.05,607.35 L309.30,609.59 L309.55,611.94 L309.80,614.41 L310.05,616.97 L310.30,619.63 L310.55,622.39 L310.80,625.24 L311.05,628.17 L311.30,631.18 L311.55,634.27 L311.80,637.42 L312.05,640.64 L312.30,643.92 L312.55,647.25 L312.80,650.62 L313.05,654.03 L313.30,657.48 L313.87,665.40 L314.25,666.00 L314.80,658.28 L315.05,654.77 L315.30,651.28 L315.55,647.81 L315.80,644.37 L316.05,640.97 L316.30,637.61 L316.55,634.30 L316.80,631.04 L317.05,627.85 L317.30,624.72 L317.55,621.66 L317.80,618.68 L318.05,615.78 L318.30,612.98 L318.55,610.26 L318.80,607.65 L319.05,605.14 L319.30,602.74 L319.55,600.46 L319.80,598.29 L320.05,596.25 L320.30,594.33 L320.55,592.54 L320.80,590.89 L321.05,589.37 L321.30,588.00 L321.55,586.76 L321.80,585.67 L322.05,584.73 L322.30,583.94 L322.55,583.30 L322.80,582.82 L323.05,582.49 L323.30,582.31 L323.55,582.29 L323.80,582.42 L324.05,582.71 L324.30,583.15 L324.55,583.75 L324.80,584.50 L325.05,585.41 L325.30,586.47 L325.55,587.68 L325.80,589.04 L326.05,590.55 L326.30,592.20 L326.55,594.00 L326.80,595.93 L327.05,598.00 L327.30,600.20 L327.55,602.53 L327.80,604.99 L328.05,607.57 L328.30,610.26 L328.55,613.06 L328.80,615.97 L329.05,618.98 L329.30,622.09 L329.55,625.29 L329.80,628.57 L330.05,631.94 L330.30,635.38 L330.55,638.88 L330.80,642.45 L331.05,646.07 L331.30,649.74 L331.55,653.45 L331.80,657.20 L332.45,667.01 L332.61,667.29 L333.30,656.76 L333.55,652.96 L333.80,649.17 L334.05,645.42 L334.30,641.69 L334.55,638.01 L334.80,634.37 L335.05,630.79 L335.30,627.27 L335.55,623.82 L335.80,620.44 L336.05,617.13 L336.30,613.92 L336.55,610.79 L336.80,607.77 L337.05,604.85 L337.30,602.03 L337.55,599.33 L337.80,596.75 L338.05,594.30 L338.30,591.97 L338.55,589.78 L338.80,587.73 L339.05,585.81 L339.30,584.05 L339.55,582.43 L339.80,580.97 L340.05,579.66 L340.30,578.50 L340.55,577.51 L340.80,576.69 L341.05,576.02 L341.30,575.53 L341.55,575.20 L341.80,575.04 L342.05,575.04 L342.30,575.22 L342.55,575.57 L342.80,576.08 L343.05,576.77 L343.30,577.62 L343.55,578.64 L343.80,579.82 L344.05,581.17 L344.30,582.68 L344.55,584.34 L344.80,586.17 L345.05,588.14 L345.30,590.27 L345.55,592.54 L345.80,594.95 L346.05,597.51 L346.30,600.19 L346.55,603.01 L346.80,605.95 L347.05,609.01 L347.30,612.18 L347.55,615.47 L347.80,618.85 L348.05,622.34 L348.30,625.91 L348.55,629.57 L348.80,633.30 L349.05,637.11 L349.30,640.98 L349.55,644.91 L349.80,648.89 L350.05,652.92 L350.30,656.98 L350.71,663.64 L351.23,664.58 L351.80,655.10 L352.05,650.99 L352.30,646.91 L352.55,642.85 L352.80,638.83 L353.05,634.86 L353.30,630.94 L353.55,627.08 L353.80,623.29 L354.05,619.57 L354.30,615.94 L354.55,612.39 L354.80,608.93 L355.05,605.58 L355.30,602.33 L355.55,599.20 L355.80,596.18 L356.05,593.29 L356.30,590.53 L356.55,587.91 L356.80,585.43 L357.05,583.09 L357.30,580.90 L357.55,578.87 L357.80,576.99 L358.05,575.28 L358.30,573.73 L358.55,572.35 L358.80,571.15 L359.05,570.11 L359.30,569.25 L359.55,568.58 L359.80,568.08 L360.05,567.76 L360.30,567.62 L360.55,567.66 L360.80,567.89 L361.05,568.29 L361.30,568.88 L361.55,569.66 L361.80,570.61 L362.05,571.74 L362.30,573.05 L362.55,574.54 L362.80,576.20 L363.05,578.03 L363.30,580.03 L363.55,582.19 L363.80,584.51 L364.05,586.99 L364.30,589.62 L364.55,592.41 L364.80,595.33 L365.05,598.39 L365.30,601.59 L365.55,604.91 L365.80,608.36 L366.05,611.92 L366.30,615.59 L366.55,619.37 L366.80,623.24 L367.05,627.20 L367.30,631.25 L367.55,635.37 L367.80,639.56 L368.05,643.81 L368.30,648.11 L368.55,652.46 L368.80,656.84 L369.29,665.44 L369.59,666.03 L370.30,653.30 L370.55,648.87 L370.80,644.47 L371.05,640.11 L371.30,635.78 L371.55,631.51 L371.80,627.30 L372.05,623.15 L372.30,619.08 L372.55,615.08 L372.80,611.18 L373.05,607.37 L373.30,603.67 L373.55,600.07 L373.80,596.60 L374.05,593.24 L374.30,590.02 L374.55,586.93 L374.80,583.98 L375.05,581.18 L375.30,578.53 L375.55,576.04 L375.80,573.71 L376.05,571.55 L376.30,569.57 L376.55,567.75 L376.80,566.12 L377.05,564.67 L377.30,563.40 L377.55,562.32 L377.80,561.43 L378.05,560.74 L378.30,560.23 L378.55,559.93 L378.80,559.81 L379.05,559.90 L379.30,560.18 L379.55,560.65 L379.80,561.33 L380.05,562.20 L380.30,563.26 L380.55,564.52 L380.80,565.96 L381.05,567.60 L381.30,569.42 L381.55,571.43 L381.80,573.61 L382.05,575.97 L382.30,578.51 L382.55,581.21 L382.80,584.08 L383.05,587.10 L383.30,590.28 L383.55,593.60 L383.80,597.07 L384.05,600.68 L384.30,604.41 L384.55,608.27 L384.80,612.24 L385.05,616.33 L385.30,620.51 L385.55,624.80 L385.80,629.17 L386.05,633.61 L386.30,638.14 L386.55,642.72 L386.80,647.36 L387.05,652.05 L387.30,656.78 L387.54,661.43 L388.20,662.81 L388.55,656.11 L388.80,651.33 L389.05,646.57 L389.30,641.84 L389.55,637.15 L389.80,632.51 L390.05,627.93 L390.30,623.41 L390.55,618.96 L390.80,614.59 L391.05,610.32 L391.30,606.14 L391.55,602.06 L391.80,598.10 L392.05,594.25 L392.30,590.54 L392.55,586.95 L392.80,583.51 L393.05,580.22 L393.30,577.08 L393.55,574.10 L393.80,571.28 L394.05,568.63 L394.30,566.17 L394.55,563.88 L394.80,561.77 L395.05,559.86 L395.30,558.14 L395.55,556.61 L395.80,555.29 L396.05,554.17 L396.30,553.25 L396.55,552.54 L396.80,552.04 L397.05,551.75 L397.30,551.67 L397.55,551.79 L397.80,552.13 L398.05,552.68 L398.30,553.45 L398.55,554.42 L398.80,555.60 L399.05,556.98 L399.30,558.58 L399.55,560.37 L399.80,562.36 L400.05,564.55 L400.30,566.94 L400.55,569.51 L400.80,572.27 L401.05,575.20 L401.30,578.31 L401.55,581.59 L401.80,585.04 L402.05,588.64 L402.30,592.39 L402.55,596.29 L402.80,600.33 L403.05,604.50 L403.30,608.79 L403.55,613.20 L403.80,617.72 L404.05,622.34 L404.30,627.05 L404.55,631.85 L404.80,636.72 L405.05,641.66 L405.30,646.65 L405.55,651.70 L406.12,663.42 L406.56,664.41 L407.05,654.31 L407.30,649.17 L407.55,644.06 L407.80,638.99 L408.05,633.96 L408.30,628.98 L408.55,624.07 L408.80,619.22 L409.05,614.46 L409.30,609.78 L409.55,605.20 L409.80,600.73 L410.05,596.37 L410.30,592.14 L410.55,588.03 L410.80,584.06 L411.05,580.24 L411.30,576.57 L411.55,573.06 L411.80,569.71 L412.05,566.54 L412.30,563.54 L412.55,560.73 L412.80,558.11 L413.05,555.69 L413.30,553.47 L413.55,551.45 L413.80,549.63 L414.05,548.03 L414.30,546.65 L414.55,545.48 L414.80,544.53 L415.05,543.81 L415.30,543.31 L415.55,543.04 L415.80,542.99 L416.05,543.17 L416.30,543.58 L416.55,544.21 L416.80,545.08 L417.05,546.16 L417.30,547.47 L417.55,549.00 L417.80,550.76 L418.05,552.72 L418.30,554.91 L418.55,557.30 L418.80,559.90 L419.05,562.69 L419.30,565.69 L419.55,568.88 L419.80,572.26 L420.05,575.81 L420.30,579.54 L420.55,583.44 L420.80,587.50 L421.05,591.72 L421.30,596.08 L421.55,600.58 L421.80,605.21 L422.05,609.97 L422.30,614.84 L422.55,619.82 L422.80,624.89 L423.05,630.06 L423.30,635.30 L423.55,640.61 L423.80,645.99 L424.05,651.41 L424.70,665.75 L424.92,666.28 L425.55,652.33 L425.80,646.82 L426.05,641.35 L426.30,635.91 L426.55,630.53 L426.80,625.20 L427.05,619.94 L427.30,614.76 L427.55,609.66 L427.80,604.67 L428.05,599.78 L428.30,595.00 L428.55,590.35 L428.80,585.83 L429.05,581.45 L429.30,577.23 L429.55,573.16 L429.80,569.25 L430.05,565.52 L430.30,561.97 L430.55,558.60 L430.80,555.43 L431.05,552.45 L431.30,549.68 L431.55,547.12 L431.80,544.78 L432.05,542.65 L432.30,540.75 L432.55,539.08 L432.80,537.64 L433.05,536.43 L433.30,535.46 L433.55,534.73 L433.80,534.24 L434.05,534.00 L434.30,534.00 L434.55,534.25 L434.80,534.74 L435.05,535.47 L435.30,536.44 L435.55,537.66 L435.80,539.11 L436.05,540.81 L436.30,542.73 L436.55,544.89 L436.80,547.27 L437.05,549.88 L437.30,552.71 L437.55,555.76 L437.80,559.01 L438.05,562.47 L438.30,566.12 L438.55,569.97 L438.80,574.00 L439.05,578.21 L439.30,582.59 L439.55,587.14 L439.80,591.84 L440.05,596.68 L440.30,601.67 L440.55,606.78 L440.80,612.02 L441.05,617.37 L441.30,622.82 L441.55,628.36 L441.80,633.98 L442.05,639.67 L442.30,645.43 L442.55,651.24 L442.96,660.91 L443.53,662.39 L444.05,650.21 L444.30,644.34 L444.55,638.50 L444.80,632.70 L445.05,626.96 L445.30,621.28 L445.55,615.68 L445.80,610.17 L446.05,604.75 L446.30,599.44 L446.55,594.24 L446.80,589.17 L447.05,584.24 L447.30,579.44 L447.55,574.81 L447.80,570.33 L448.05,566.02 L448.30,561.89 L448.55,557.95 L448.80,554.20 L449.05,550.65 L449.30,547.31 L449.55,544.19 L449.80,541.28 L450.05,538.60 L450.30,536.15 L450.55,533.93 L450.80,531.96 L451.05,530.23 L451.30,528.74 L451.55,527.51 L451.80,526.53 L452.05,525.81 L452.30,525.34 L452.55,525.14 L452.80,525.19 L453.05,525.50 L453.30,526.07 L453.55,526.90 L453.80,527.99 L454.05,529.34 L454.30,530.94 L454.55,532.79 L454.80,534.89 L455.05,537.24 L455.30,539.82 L455.55,542.65 L455.80,545.71 L456.05,548.99 L456.30,552.50 L456.55,556.22 L456.80,560.16 L457.05,564.29 L457.30,568.63 L457.55,573.14 L457.80,577.84 L458.05,582.72 L458.30,587.75 L458.55,592.94 L458.80,598.28 L459.05,603.75 L459.30,609.35 L459.55,615.06 L459.80,620.88 L460.05,626.80 L460.30,632.80 L460.55,638.87 L460.80,645.01 L461.05,651.21 L461.54,663.49 L461.89,664.47 L462.55,647.97 L462.80,641.73 L463.05,635.52 L463.30,629.36 L463.55,623.27 L463.80,617.25 L464.05,611.30 L464.30,605.46 L464.55,599.72 L464.80,594.09 L465.05,588.59 L465.30,583.22 L465.55,578.00 L465.80,572.93 L466.05,568.03 L466.30,563.31 L466.55,558.76 L466.80,554.41 L467.05,550.26 L467.30,546.32 L467.55,542.59 L467.80,539.08 L468.05,535.80 L468.30,532.75 L468.55,529.95 L468.80,527.39 L469.05,525.09 L469.30,523.04 L469.55,521.25 L469.80,519.73 L470.05,518.47 L470.30,517.48 L470.55,516.76 L470.80,516.32 L471.05,516.14 L471.30,516.23 L471.55,516.61 L471.80,517.25 L472.05,518.17 L472.30,519.37 L472.55,520.84 L472.80,522.58 L473.05,524.58 L473.30,526.85 L473.55,529.39 L473.80,532.17 L474.05,535.21 L474.30,538.50 L474.55,542.03 L474.80,545.79 L475.05,549.79 L475.30,554.00 L475.55,558.43 L475.80,563.07 L476.05,567.90 L476.30,572.93 L476.55,578.14 L476.80,583.52 L477.05,589.07 L477.30,594.77 L477.55,600.61 L477.80,606.59 L478.05,612.68 L478.30,618.90 L478.55,625.21 L478.80,631.61 L479.05,638.09 L479.30,644.63 L479.55,651.23 L479.80,657.90 L480.51,659.97 L480.80,652.17 L481.05,645.49 L481.30,638.85 L481.55,632.24 L481.80,625.69 L482.05,619.21 L482.30,612.80 L482.55,606.49 L482.80,600.27 L483.05,594.17 L483.30,588.19 L483.55,582.35 L483.80,576.65 L484.05,571.11 L484.30,565.73 L484.55,560.54 L484.80,555.53 L485.05,550.71 L485.30,546.10 L485.55,541.70 L485.80,537.53 L486.05,533.58 L486.30,529.88 L486.55,526.42 L486.80,523.20 L487.05,520.25 L487.30,517.56 L487.55,515.14 L487.80,512.99 L488.05,511.13 L488.30,509.54 L488.55,508.24 L488.80,507.22 L489.05,506.50 L489.30,506.06 L489.55,505.91 L489.80,506.06 L490.05,506.50 L490.30,507.23 L490.55,508.26 L490.80,509.58 L491.05,511.19 L491.30,513.09 L491.55,515.27 L491.80,517.74 L492.05,520.48 L492.30,523.49 L492.55,526.78 L492.80,530.33 L493.05,534.13 L493.30,538.19 L493.55,542.49 L493.80,547.02 L494.05,551.79 L494.30,556.77 L494.55,561.97 L494.80,567.37 L495.05,572.96 L495.30,578.74 L495.55,584.69 L495.80,590.80 L496.05,597.06 L496.30,603.47 L496.55,610.00 L496.80,616.65 L497.05,623.41 L497.30,630.27 L497.55,637.20 L497.80,644.21 L498.05,651.27 L498.38,660.66 L498.87,662.19 L499.30,649.82 L499.55,642.69 L499.80,635.59 L500.05,628.53 L500.30,621.54 L500.55,614.62 L500.80,607.78 L501.05,601.04 L501.30,594.41 L501.55,587.90 L501.80,581.53 L502.05,575.30 L502.30,569.23 L502.55,563.33 L502.80,557.61 L503.05,552.08 L503.30,546.75 L503.55,541.63 L503.80,536.73 L504.05,532.06 L504.30,527.62 L504.55,523.44 L504.80,519.51 L505.05,515.85 L505.30,512.45 L505.55,509.33 L505.80,506.49 L506.05,503.95 L506.30,501.69 L506.55,499.73 L506.80,498.08 L507.05,496.73 L507.30,495.69 L507.55,494.96 L507.80,494.57 L508.05,494.49 L508.30,494.73 L508.55,495.28 L508.80,496.15 L509.05,497.33 L509.30,498.83 L509.55,500.63 L509.80,502.74 L510.05,505.15 L510.30,507.87 L510.55,510.88 L510.80,514.17 L511.05,517.76 L511.30,521.62 L511.55,525.75 L511.80,530.15 L512.05,534.81 L512.30,539.72 L512.55,544.86 L512.80,550.24 L513.05,555.84 L513.30,561.65 L513.55,567.67 L513.80,573.88 L514.05,580.27 L514.30,586.82 L514.55,593.54 L514.80,600.40 L515.05,607.40 L515.30,614.51 L515.55,621.74 L515.80,629.06 L516.05,636.46 L516.30,643.94 L516.96,663.87 L517.23,664.78 L517.80,647.34 L518.05,639.76 L518.30,632.23 L518.55,624.74 L518.80,617.33 L519.05,610.00 L519.30,602.76 L519.55,595.64 L519.80,588.63 L520.05,581.75 L520.30,575.03 L520.55,568.46 L520.80,562.06 L521.05,555.85 L521.30,549.83 L521.55,544.02 L521.80,538.42 L522.05,533.05 L522.30,527.92 L522.55,523.04 L522.80,518.41 L523.05,514.05 L523.30,509.95 L523.55,506.15 L523.80,502.62 L524.05,499.40 L524.30,496.47 L524.55,493.86 L524.80,491.55 L525.05,489.57 L525.30,487.90 L525.55,486.56 L525.80,485.55 L526.05,484.86 L526.30,484.51 L526.55,484.45 L526.80,484.73 L527.05,485.34 L527.30,486.28 L527.55,487.55 L527.80,489.16 L528.05,491.09 L528.30,493.35 L528.55,495.93 L528.80,498.83 L529.05,502.04 L529.30,505.56 L529.55,509.38 L529.80,513.50 L530.05,517.90 L530.30,522.59 L530.55,527.55 L530.80,532.77 L531.05,538.25 L531.30,543.98 L531.55,549.94 L531.80,556.13 L532.05,562.54 L532.30,569.15 L532.55,575.95 L532.80,582.93 L533.05,590.08 L533.30,597.39 L533.55,604.83 L533.80,612.41 L534.05,620.10 L534.30,627.90 L534.55,635.78 L534.80,643.74 L535.22,657.19 L535.84,659.41 L536.30,644.57 L536.55,636.50 L536.80,628.47 L537.05,620.50 L537.30,612.61 L537.55,604.80 L537.80,597.09 L538.05,589.49 L538.30,582.02 L538.55,574.70 L538.80,567.53 L539.05,560.53 L539.30,553.72 L539.55,547.10 L539.80,540.69 L540.05,534.49 L540.30,528.53 L540.55,522.81 L540.80,517.35 L541.05,512.15 L541.30,507.22 L541.55,502.57 L541.80,498.22 L542.05,494.17 L542.30,490.42 L542.55,487.00 L542.80,483.89 L543.05,481.11 L543.30,478.67 L543.55,476.57 L543.80,474.81 L544.05,473.40 L544.30,472.34 L544.55,471.63 L544.80,471.29 L545.05,471.31 L545.30,471.69 L545.55,472.43 L545.80,473.52 L546.05,474.97 L546.30,476.78 L546.55,478.93 L546.80,481.43 L547.05,484.27 L547.30,487.45 L547.55,490.97 L547.80,494.81 L548.05,498.97 L548.30,503.45 L548.55,508.24 L548.80,513.32 L549.05,518.69 L549.30,524.34 L549.55,530.27 L549.80,536.45 L550.05,542.88 L550.30,549.55 L550.55,556.45 L550.80,563.56 L551.05,570.88 L551.30,578.38 L551.55,586.06 L551.80,593.90 L552.05,601.89 L552.30,610.01 L552.55,618.25 L552.80,626.60 L553.05,635.03 L553.30,643.54 L553.80,660.65 L554.20,662.19 L554.80,641.50 L555.05,632.90 L555.30,624.35 L555.55,615.87 L555.80,607.47 L556.05,599.17 L556.30,590.98 L556.55,582.91 L556.80,574.99 L557.05,567.22 L557.30,559.63 L557.55,552.22 L557.80,545.00 L558.05,538.00 L558.30,531.23 L558.55,524.69 L558.80,518.40 L559.05,512.38 L559.30,506.62 L559.55,501.15 L559.80,495.98 L560.05,491.11 L560.30,486.55 L560.55,482.31 L560.80,478.41 L561.05,474.84 L561.30,471.62 L561.55,468.75 L561.80,466.24 L562.05,464.09 L562.30,462.30 L562.55,460.89 L562.80,459.85 L563.05,459.19 L563.30,458.89 L563.55,458.97 L563.80,459.43 L564.05,460.28 L564.30,461.50 L564.55,463.09 L564.80,465.06 L565.05,467.41 L565.30,470.12 L565.55,473.20 L565.80,476.63 L566.05,480.42 L566.30,484.56 L566.55,489.04 L566.80,493.85 L567.05,498.99 L567.30,504.44 L567.55,510.20 L567.80,516.25 L568.05,522.60 L568.30,529.21 L568.55,536.10 L568.80,543.23 L569.05,550.60 L569.30,558.20 L569.55,566.01 L569.80,574.02 L570.05,582.22 L570.30,590.59 L570.55,599.11 L570.80,607.77 L571.05,616.56 L571.30,625.46 L571.55,634.45 L571.80,643.51 L572.38,664.64 L572.56,665.39 L573.30,638.18 L573.55,629.04 L573.80,619.95 L574.05,610.93 L574.30,602.01 L574.55,593.18 L574.80,584.48 L575.05,575.92 L575.30,567.50 L575.55,559.26 L575.80,551.20 L576.05,543.34 L576.30,535.69 L576.55,528.27 L576.80,521.09 L577.05,514.17 L577.30,507.51 L577.55,501.14 L577.80,495.05 L578.05,489.27 L578.30,483.81 L578.55,478.67 L578.80,473.87 L579.05,469.41 L579.30,465.30 L579.55,461.55 L579.80,458.18 L580.05,455.18 L580.30,452.56 L580.55,450.32 L580.80,448.48 L581.05,447.04 L581.30,445.99 L581.55,445.35 L581.80,445.10 L582.05,445.26 L582.30,445.81 L582.55,446.77 L582.80,448.14 L583.05,449.91 L583.30,452.07 L583.55,454.64 L583.80,457.59 L584.05,460.93 L584.30,464.66 L584.55,468.76 L584.80,473.23 L585.05,478.06 L585.30,483.25 L585.55,488.78 L585.80,494.64 L586.05,500.83 L586.30,507.34 L586.55,514.15 L586.80,521.25 L587.05,528.63 L587.30,536.28 L587.55,544.18 L587.80,552.32 L588.05,560.69 L588.30,569.26 L588.55,578.03 L588.80,586.98 L589.05,596.09 L589.30,605.35 L589.55,614.74 L589.80,624.25 L590.05,633.85 L590.30,643.53 L590.64,656.65 L591.18,658.98 L591.55,644.28 L591.80,634.49 L592.05,624.75 L592.30,615.07 L592.55,605.46 L592.80,595.96 L593.05,586.57 L593.30,577.31 L593.55,568.20 L593.80,559.25 L594.05,550.49 L594.30,541.93 L594.55,533.58 L594.80,525.46 L595.05,517.58 L595.30,509.97 L595.55,502.63 L595.80,495.58 L596.05,488.82 L596.30,482.39 L596.55,476.27 L596.80,470.50 L597.05,465.07 L597.30,460.01 L597.55,455.31 L597.80,450.99 L598.05,447.06 L598.30,443.52 L598.55,440.38 L598.80,437.65 L599.05,435.34 L599.30,433.44 L599.55,431.97 L599.80,430.92 L600.05,430.30 L600.30,430.11 L600.55,430.35 L600.80,431.02 L601.05,432.12 L601.30,433.65 L601.55,435.61 L601.80,437.99 L602.05,440.80 L602.30,444.02 L602.55,447.66 L602.80,451.70 L603.05,456.15 L603.30,460.99 L603.55,466.21 L603.80,471.80 L604.05,477.77 L604.30,484.09 L604.55,490.75 L604.80,497.75 L605.05,505.08 L605.30,512.71 L605.55,520.63 L605.80,528.84 L606.05,537.32 L606.30,546.05 L606.55,555.01 L606.80,564.20 L607.05,573.59 L607.30,583.18 L607.55,592.93 L607.80,602.84 L608.05,612.88 L608.30,623.04 L608.55,633.30 L609.22,660.96 L609.54,662.44 L610.05,640.86 L610.30,630.43 L610.55,620.04 L610.80,609.72 L611.05,599.49 L611.30,589.36 L611.55,579.36 L611.80,569.51 L612.05,559.82 L612.30,550.30 L612.55,540.99 L612.80,531.89 L613.05,523.02 L613.30,514.40 L613.55,506.04 L613.80,497.96 L614.05,490.18 L614.30,482.71 L614.55,475.56 L614.80,468.75 L615.05,462.28 L615.30,456.19 L615.55,450.46 L615.80,445.12 L616.05,440.18 L616.30,435.64 L616.55,431.51 L616.80,427.81 L617.05,424.54 L617.30,421.70 L617.55,419.31 L617.80,417.36 L618.05,415.86 L618.30,414.82 L618.55,414.24 L618.80,414.12 L619.05,414.45 L619.30,415.24 L619.55,416.49 L619.80,418.21 L620.05,420.38 L620.30,423.00 L620.55,426.07 L620.80,429.59 L621.05,433.55 L621.30,437.94 L621.55,442.75 L621.80,447.98 L622.05,453.63 L622.30,459.67 L622.55,466.10 L622.80,472.91 L623.05,480.08 L623.30,487.61 L623.55,495.48 L623.80,503.68 L624.05,512.19 L624.30,521.00 L624.55,530.10 L624.80,539.46 L625.05,549.07 L625.30,558.91 L625.55,568.97 L625.80,579.23 L626.05,589.67 L626.30,600.27 L626.55,611.01 L626.80,621.87 L627.05,632.84 L627.47,651.65 L628.15,654.96 L628.55,637.10 L628.80,625.96 L629.05,614.89 L629.30,603.89 L629.55,592.99 L629.80,582.21 L630.05,571.56 L630.30,561.08 L630.55,550.76 L630.80,540.65 L631.05,530.74 L631.30,521.07 L631.55,511.65 L631.80,502.50 L632.05,493.63 L632.30,485.07 L632.55,476.82 L632.80,468.90 L633.05,461.33 L633.30,454.13 L633.55,447.30 L633.80,440.86 L634.05,434.82 L634.30,429.19 L634.55,423.99 L634.80,419.22 L635.05,414.89 L635.30,411.02 L635.55,407.61 L635.80,404.66 L636.05,402.19 L636.30,400.19 L636.55,398.68 L636.80,397.66 L637.05,397.11 L637.30,397.03 L637.55,397.45 L637.80,398.35 L638.05,399.75 L638.30,401.64 L638.55,404.01 L638.80,406.87 L639.05,410.21 L639.30,414.02 L639.55,418.30 L639.80,423.05 L640.05,428.25 L640.30,433.89 L640.55,439.97 L640.80,446.48 L641.05,453.40 L641.30,460.73 L641.55,468.44 L641.80,476.54 L642.05,485.00 L642.30,493.81 L642.55,502.95 L642.80,512.41 L643.05,522.17 L643.30,532.22 L643.55,542.53 L643.80,553.09 L644.05,563.88 L644.30,574.88 L644.55,586.08 L644.80,597.44 L645.05,608.96 L645.30,620.60 L645.55,632.36 L646.05,656.29 L646.51,658.70 L647.05,632.81 L647.30,620.89 L647.55,609.03 L647.80,597.26 L648.05,585.59 L648.30,574.05 L648.55,562.66 L648.80,551.44 L649.05,540.41 L649.30,529.59 L649.55,519.00 L649.80,508.66 L650.05,498.59 L650.30,488.81 L650.55,479.34 L650.80,470.19 L651.05,461.38 L651.30,452.93 L651.55,444.86 L651.80,437.17 L652.05,429.89 L652.30,423.03 L652.55,416.60 L652.80,410.62 L653.05,405.09 L653.30,400.03 L653.55,395.44 L653.80,391.34 L654.05,387.74 L654.30,384.63 L654.55,382.04 L654.80,379.96 L655.05,378.40 L655.30,377.36" stroke="#e0281a"/>
<path d="M74.55,668.40 L74.80,668.39 L75.05,668.37 L75.30,668.35 L75.55,668.32 L75.80,668.29 L76.05,668.24 L76.30,668.20 L76.55,668.14 L76.80,668.08 L77.05,668.01 L77.30,667.94 L77.55,667.87 L77.80,667.79 L78.05,667.70 L78.30,667.61 L78.55,667.52 L78.80,667.42 L79.05,667.32 L79.30,667.22 L79.55,667.11 L79.80,667.00 L80.05,666.89 L80.30,666.78 L80.55,666.67 L80.80,666.56 L81.05,666.46 L81.30,666.35 L81.55,666.24 L81.80,666.13 L82.05,666.03 L82.30,665.93 L82.55,665.83 L82.80,665.74 L83.05,665.65 L83.30,665.56 L83.55,665.48 L83.80,665.41 L84.05,665.34 L84.30,665.28 L84.55,665.22 L84.80,665.18 L85.05,665.14 L85.30,665.10 L85.55,665.08 L85.80,665.06 L86.05,665.05 L86.30,665.06 L86.55,665.07 L86.80,665.09 L87.05,665.12 L87.30,665.16 L87.55,665.21 L87.80,665.27 L88.05,665.34 L88.30,665.42 L88.55,665.52 L88.80,665.62 L89.05,665.73 L89.30,665.86 L89.55,665.99 L89.80,666.13 L90.05,666.29 L90.30,666.45 L90.55,666.63 L90.80,666.81 L91.05,667.01 L91.30,667.21 L91.55,667.42 L91.80,667.64 L92.52,668.32 L92.66,668.34 L93.30,667.67 L93.55,667.41 L93.80,667.13 L94.05,666.85 L94.30,666.57 L94.55,666.28 L94.80,666.00 L95.05,665.71 L95.30,665.41 L95.55,665.12 L95.80,664.83 L96.05,664.54 L96.30,664.24 L96.55,663.96 L96.80,663.67 L97.05,663.39 L97.30,663.11 L97.55,662.83 L97.80,662.56 L98.05,662.30 L98.30,662.05 L98.55,661.80 L98.80,661.56 L99.05,661.33 L99.30,661.11 L99.55,660.90 L99.80,660.70 L100.05,660.51 L100.30,660.33 L100.55,660.17 L100.80,660.02 L101.05,659.88 L101.30,659.76 L101.55,659.66 L101.80,659.57 L102.05,659.49 L102.30,659.43 L102.55,659.39 L102.80,659.37 L103.05,659.36 L103.30,659.37 L103.55,659.40 L103.80,659.45 L104.05,659.51 L104.30,659.60 L104.55,659.70 L104.80,659.82 L105.05,659.97 L105.30,660.13 L105.55,660.30 L105.80,660.50 L106.05,660.72 L106.30,660.95 L106.55,661.20 L106.80,661.47 L107.05,661.76 L107.30,662.07 L107.55,662.39 L107.80,662.73 L108.05,663.09 L108.30,663.46 L108.55,663.84 L108.80,664.24 L109.05,664.66 L109.30,665.09 L109.55,665.53 L109.80,665.98 L110.05,666.44 L110.30,666.92 L110.78,667.85 L111.28,667.95 L111.80,666.87 L112.05,666.35 L112.30,665.82 L112.55,665.30 L112.80,664.77 L113.05,664.24 L113.30,663.71 L113.55,663.19 L113.80,662.67 L114.05,662.15 L114.30,661.64 L114.55,661.13 L114.80,660.63 L115.05,660.14 L115.30,659.66 L115.55,659.19 L115.80,658.74 L116.05,658.29 L116.30,657.86 L116.55,657.44 L116.80,657.04 L117.05,656.66 L117.30,656.29 L117.55,655.94 L117.80,655.61 L118.05,655.30 L118.30,655.02 L118.55,654.75 L118.80,654.51 L119.05,654.29 L119.30,654.10 L119.55,653.93 L119.80,653.78 L120.05,653.66 L120.30,653.57 L120.55,653.50 L120.80,653.47 L121.05,653.45 L121.30,653.47 L121.55,653.52 L121.80,653.59 L122.05,653.69 L122.30,653.82 L122.55,653.98 L122.80,654.17 L123.05,654.39 L123.30,654.64 L123.55,654.91 L123.80,655.21 L124.05,655.54 L124.30,655.90 L124.55,656.28 L124.80,656.69 L125.05,657.13 L125.30,657.59 L125.55,658.08 L125.80,658.59 L126.05,659.12 L126.30,659.68 L126.55,660.26 L126.80,660.86 L127.05,661.48 L127.30,662.12 L127.55,662.77 L127.80,663.44 L128.05,664.13 L128.30,664.83 L128.55,665.55 L128.80,666.28 L129.36,667.93 L129.64,668.02 L130.30,665.98 L130.55,665.21 L130.80,664.43 L131.05,663.66 L131.30,662.88 L131.55,662.11 L131.80,661.35 L132.05,660.59 L132.30,659.84 L132.55,659.10 L132.80,658.37 L133.05,657.65 L133.30,656.95 L133.55,656.26 L133.80,655.59 L134.05,654.94 L134.30,654.30 L134.55,653.69 L134.80,653.10 L135.05,652.53 L135.30,651.99 L135.55,651.47 L135.80,650.98 L136.05,650.52 L136.30,650.08 L136.55,649.68 L136.80,649.31 L137.05,648.97 L137.30,648.67 L137.55,648.39 L137.80,648.16 L138.05,647.96 L138.30,647.79 L138.55,647.66 L138.80,647.57 L139.05,647.52 L139.30,647.50 L139.55,647.53 L139.80,647.59 L140.05,647.69 L140.30,647.83 L140.55,648.01 L140.80,648.23 L141.05,648.49 L141.30,648.78 L141.55,649.12 L141.80,649.49 L142.05,649.90 L142.30,650.35 L142.55,650.83 L142.80,651.35 L143.05,651.91 L143.30,652.50 L143.55,653.12 L143.80,653.78 L144.05,654.46 L144.30,655.18 L144.55,655.93 L144.80,656.71 L145.05,657.51 L145.30,658.34 L145.55,659.19 L145.80,660.07 L146.05,660.97 L146.30,661.88 L146.55,662.82 L146.80,663.77 L147.05,664.74 L147.30,665.72 L147.61,666.98 L148.25,667.25 L148.80,665.00 L149.05,663.98 L149.30,662.95 L149.55,661.93 L149.80,660.92 L150.05,659.91 L150.30,658.91 L150.55,657.92 L150.80,656.94 L151.05,655.98 L151.30,655.03 L151.55,654.11 L151.80,653.20 L152.05,652.31 L152.30,651.45 L152.55,650.62 L152.80,649.81 L153.05,649.03 L153.30,648.28 L153.55,647.57 L153.80,646.88 L154.05,646.23 L154.30,645.62 L154.55,645.05 L154.80,644.52 L155.05,644.02 L155.30,643.57 L155.55,643.16 L155.80,642.80 L156.05,642.48 L156.30,642.20 L156.55,641.98 L156.80,641.79 L157.05,641.66 L157.30,641.58 L157.55,641.54 L157.80,641.55 L158.05,641.61 L158.30,641.73 L158.55,641.89 L158.80,642.10 L159.05,642.36 L159.30,642.67 L159.55,643.02 L159.80,643.43 L160.05,643.89 L160.30,644.39 L160.55,644.94 L160.80,645.53 L161.05,646.18 L161.30,646.86 L161.55,647.59 L161.80,648.36 L162.05,649.17 L162.30,650.03 L162.55,650.92 L162.80,651.85 L163.05,652.81 L163.30,653.81 L163.55,654.84 L163.80,655.90 L164.05,656.99 L164.30,658.10 L164.55,659.24 L164.80,660.41 L165.05,661.60 L165.30,662.80 L165.55,664.02 L165.80,665.26 L166.19,667.23 L166.61,667.46 L167.05,665.22 L167.30,663.94 L167.55,662.66 L167.80,661.39 L168.05,660.12 L168.30,658.86 L168.55,657.62 L168.80,656.38 L169.05,655.16 L169.30,653.96 L169.55,652.78 L169.80,651.62 L170.05,650.48 L170.30,649.38 L170.55,648.30 L170.80,647.25 L171.05,646.24 L171.30,645.26 L171.55,644.31 L171.80,643.41 L172.05,642.55 L172.30,641.73 L172.55,640.96 L172.80,640.23 L173.05,639.55 L173.30,638.92 L173.55,638.34 L173.80,637.81 L174.05,637.33 L174.30,636.91 L174.55,636.55 L174.80,636.24 L175.05,635.99 L175.30,635.79 L175.55,635.66 L175.80,635.58 L176.05,635.57 L176.30,635.61 L176.55,635.71 L176.80,635.88 L177.05,636.10 L177.30,636.39 L177.55,636.73 L177.80,637.13 L178.05,637.60 L178.30,638.12 L178.55,638.70 L178.80,639.33 L179.05,640.02 L179.30,640.77 L179.55,641.57 L179.80,642.43 L180.05,643.33 L180.30,644.29 L180.55,645.29 L180.80,646.34 L181.05,647.44 L181.30,648.58 L181.55,649.76 L181.80,650.98 L182.05,652.24 L182.30,653.54 L182.55,654.86 L182.80,656.22 L183.05,657.61 L183.30,659.02 L183.55,660.46 L183.80,661.91 L184.05,663.39 L184.77,667.74 L184.97,667.87 L185.55,664.32 L185.80,662.79 L186.05,661.26 L186.30,659.74 L186.55,658.23 L186.80,656.73 L187.05,655.24 L187.30,653.77 L187.55,652.33 L187.80,650.90 L188.05,649.50 L188.30,648.13 L188.55,646.79 L188.80,645.49 L189.05,644.22 L189.30,642.98 L189.55,641.79 L189.80,640.65 L190.05,639.54 L190.30,638.49 L190.55,637.49 L190.80,636.53 L191.05,635.64 L191.30,634.79 L191.55,634.01 L191.80,633.28 L192.05,632.62 L192.30,632.02 L192.55,631.48 L192.80,631.01 L193.05,630.60 L193.30,630.26 L193.55,629.99 L193.80,629.79 L194.05,629.65 L194.30,629.59 L194.55,629.60 L194.80,629.68 L195.05,629.83 L195.30,630.05 L195.55,630.34 L195.80,630.70 L196.05,631.13 L196.30,631.63 L196.55,632.20 L196.80,632.84 L197.05,633.55 L197.30,634.32 L197.55,635.16 L197.80,636.06 L198.05,637.03 L198.30,638.05 L198.55,639.14 L198.80,640.28 L199.05,641.48 L199.30,642.73 L199.55,644.03 L199.80,645.39 L200.05,646.79 L200.30,648.24 L200.55,649.73 L200.80,651.25 L201.05,652.82 L201.30,654.42 L201.55,656.05 L201.80,657.71 L202.05,659.40 L202.30,661.11 L202.55,662.84 L203.03,666.23 L203.58,666.65 L204.05,663.33 L204.30,661.55 L204.55,659.77 L204.80,658.01 L205.05,656.25 L205.30,654.51 L205.55,652.79 L205.80,651.09 L206.05,649.41 L206.30,647.77 L206.55,646.15 L206.80,644.57 L207.05,643.03 L207.30,641.53 L207.55,640.07 L207.80,638.65 L208.05,637.29 L208.30,635.98 L208.55,634.72 L208.80,633.52 L209.05,632.37 L209.30,631.29 L209.55,630.27 L209.80,629.32 L210.05,628.43 L210.30,627.62 L210.55,626.87 L210.80,626.20 L211.05,625.61 L211.30,625.08 L211.55,624.64 L211.80,624.27 L212.05,623.99 L212.30,623.78 L212.55,623.65 L212.80,623.61 L213.05,623.64 L213.30,623.76 L213.55,623.96 L213.80,624.24 L214.05,624.60 L214.30,625.04 L214.55,625.56 L214.80,626.17 L215.05,626.85 L215.30,627.61 L215.55,628.44 L215.80,629.36 L216.05,630.34 L216.30,631.40 L216.55,632.53 L216.80,633.73 L217.05,635.00 L217.30,636.33 L217.55,637.73 L217.80,639.19 L218.05,640.70 L218.30,642.27 L218.55,643.89 L218.80,645.57 L219.05,647.29 L219.30,649.05 L219.55,650.86 L219.80,652.70 L220.05,654.58 L220.30,656.49 L220.55,658.43 L220.80,660.40 L221.05,662.38 L221.61,666.90 L221.94,667.20 L222.55,662.26 L222.80,660.22 L223.05,658.20 L223.30,656.19 L223.55,654.19 L223.80,652.21 L224.05,650.25 L224.30,648.32 L224.55,646.42 L224.80,644.56 L225.05,642.73 L225.30,640.94 L225.55,639.20 L225.80,637.50 L226.05,635.85 L226.30,634.26 L226.55,632.73 L226.80,631.25 L227.05,629.84 L227.30,628.49 L227.55,627.21 L227.80,626.00 L228.05,624.87 L228.30,623.81 L228.55,622.82 L228.80,621.92 L229.05,621.10 L229.30,620.36 L229.55,619.71 L229.80,619.14 L230.05,618.67 L230.30,618.28 L230.55,617.98 L230.80,617.77 L231.05,617.65 L231.30,617.62 L231.55,617.69 L231.80,617.85 L232.05,618.10 L232.30,618.44 L232.55,618.88 L232.80,619.41 L233.05,620.02 L233.30,620.73 L233.55,621.53 L233.80,622.41 L234.05,623.38 L234.30,624.44 L234.55,625.58 L234.80,626.80 L235.05,628.10 L235.30,629.48 L235.55,630.93 L235.80,632.45 L236.05,634.05 L236.30,635.71 L236.55,637.44 L236.80,639.22 L237.05,641.07 L237.30,642.97 L237.55,644.93 L237.80,646.93 L238.05,648.98 L238.30,651.07 L238.55,653.20 L238.80,655.36 L239.05,657.55 L239.30,659.77 L239.55,662.01 L239.87,664.91 L240.56,665.60 L241.05,661.10 L241.30,658.81 L241.55,656.54 L241.80,654.28 L242.05,652.04 L242.30,649.83 L242.55,647.64 L242.80,645.48 L243.05,643.36 L243.30,641.27 L243.55,639.23 L243.80,637.24 L244.05,635.30 L244.30,633.41 L244.55,631.58 L244.80,629.81 L245.05,628.10 L245.30,626.47 L245.55,624.90 L245.80,623.41 L246.05,622.00 L246.30,620.67 L246.55,619.42 L246.80,618.26 L247.05,617.18 L247.30,616.19 L247.55,615.30 L247.80,614.50 L248.05,613.79 L248.30,613.19 L248.55,612.68 L248.80,612.27 L249.05,611.96 L249.30,611.75 L249.55,611.65 L249.80,611.65 L250.05,611.75 L250.30,611.95 L250.55,612.26 L250.80,612.67 L251.05,613.19 L251.30,613.80 L251.55,614.52 L251.80,615.33 L252.05,616.25 L252.30,617.26 L252.55,618.37 L252.80,619.57 L253.05,620.86 L253.30,622.25 L253.55,623.72 L253.80,625.28 L254.05,626.92 L254.30,628.64 L254.55,630.43 L254.80,632.30 L255.05,634.25 L255.30,636.25 L255.55,638.33 L255.80,640.46 L256.05,642.65 L256.30,644.89 L256.55,647.18 L256.80,649.52 L257.05,651.90 L257.30,654.31 L257.55,656.76 L257.80,659.23 L258.05,661.73 L258.45,665.76 L258.92,666.28 L259.55,659.85 L259.80,657.32 L260.05,654.80 L260.30,652.29 L260.55,649.81 L260.80,647.36 L261.05,644.94 L261.30,642.56 L261.55,640.21 L261.80,637.91 L262.05,635.66 L262.30,633.46 L262.55,631.33 L262.80,629.25 L263.05,627.24 L263.30,625.29 L263.55,623.42 L263.80,621.63 L264.05,619.92 L264.30,618.29 L264.55,616.75 L264.80,615.29 L265.05,613.93 L265.30,612.67 L265.55,611.50 L265.80,610.44 L266.05,609.47 L266.30,608.61 L266.55,607.86 L266.80,607.22 L267.05,606.68 L267.30,606.25 L267.55,605.94 L267.80,605.74 L268.05,605.65 L268.30,605.68 L268.55,605.82 L268.80,606.07 L269.05,606.44 L269.30,606.93 L269.55,607.52 L269.80,608.23 L270.05,609.04 L270.30,609.97 L270.55,611.01 L270.80,612.15 L271.05,613.40 L271.30,614.75 L271.55,616.20 L271.80,617.75 L272.05,619.40 L272.30,621.14 L272.55,622.97 L272.80,624.89 L273.05,626.89 L273.30,628.97 L273.55,631.13 L273.80,633.36 L274.05,635.66 L274.30,638.02 L274.55,640.45 L274.80,642.94 L275.05,645.47 L275.30,648.06 L275.55,650.68 L275.80,653.35 L276.05,656.05 L276.30,658.78 L276.55,661.53 L277.03,666.86 L277.28,667.17 L277.80,661.31 L278.05,658.52 L278.30,655.73 L278.55,652.97 L278.80,650.22 L279.05,647.50 L279.30,644.82 L279.55,642.16 L279.80,639.55 L280.05,636.99 L280.30,634.48 L280.55,632.02 L280.80,629.62 L281.05,627.29 L281.30,625.02 L281.55,622.83 L281.80,620.72 L282.05,618.68 L282.30,616.74 L282.55,614.88 L282.80,613.11 L283.05,611.45 L283.30,609.88 L283.55,608.41 L283.80,607.05 L284.05,605.79 L284.30,604.65 L284.55,603.62 L284.80,602.71 L285.05,601.91 L285.30,601.23 L285.55,600.67 L285.80,600.23 L286.05,599.92 L286.30,599.73 L286.55,599.66 L286.80,599.72 L287.05,599.90 L287.30,600.21 L287.55,600.64 L287.80,601.20 L288.05,601.88 L288.30,602.68 L288.55,603.60 L288.80,604.65 L289.05,605.81 L289.30,607.09 L289.55,608.48 L289.80,609.98 L290.05,611.59 L290.30,613.31 L290.55,615.14 L290.80,617.06 L291.05,619.09 L291.30,621.20 L291.55,623.41 L291.80,625.70 L292.05,628.08 L292.30,630.54 L292.55,633.07 L292.80,635.67 L293.05,638.33 L293.30,641.06 L293.55,643.84 L293.80,646.67 L294.05,649.55 L294.30,652.47 L294.55,655.43 L294.80,658.41 L295.29,664.31 L295.89,665.12 L296.30,660.14 L296.55,657.10 L296.80,654.07 L297.05,651.05 L297.30,648.07 L297.55,645.11 L297.80,642.19 L298.05,639.31 L298.30,636.47 L298.55,633.69 L298.80,630.97 L299.05,628.30 L299.30,625.70 L299.55,623.18 L299.80,620.73 L300.05,618.36 L300.30,616.08 L300.55,613.89 L300.80,611.79 L301.05,609.79 L301.30,607.89 L301.55,606.10 L301.80,604.42 L302.05,602.84 L302.30,601.39 L302.55,600.05 L302.80,598.84 L303.05,597.74 L303.30,596.78 L303.55,595.94 L303.80,595.23 L304.05,594.65 L304.30,594.21 L304.55,593.89 L304.80,593.72 L305.05,593.67 L305.30,593.77 L305.55,594.00 L305.80,594.36 L306.05,594.86 L306.30,595.50 L306.55,596.27 L306.80,597.17 L307.05,598.20 L307.30,599.36 L307.55,600.65 L307.80,602.06 L308.05,603.60 L308.30,605.26 L308.55,607.04 L308.80,608.93 L309.05,610.94 L309.30,613.05 L309.55,615.27 L309.80,617.59 L310.05,620.00 L310.30,622.51 L310.55,625.11 L310.80,627.79 L311.05,630.55 L311.30,633.39 L311.55,636.30 L311.80,639.27 L312.05,642.29 L312.30,645.38 L312.55,648.51 L312.80,651.68 L313.05,654.89 L313.30,658.14 L313.87,665.58 L314.25,666.14 L314.80,658.89 L315.05,655.59 L315.30,652.31 L315.55,649.06 L315.80,645.83 L316.05,642.63 L316.30,639.48 L316.55,636.37 L316.80,633.32 L317.05,630.32 L317.30,627.38 L317.55,624.51 L317.80,621.72 L318.05,619.01 L318.30,616.37 L318.55,613.83 L318.80,611.39 L319.05,609.04 L319.30,606.79 L319.55,604.65 L319.80,602.62 L320.05,600.71 L320.30,598.91 L320.55,597.24 L320.80,595.70 L321.05,594.28 L321.30,592.99 L321.55,591.84 L321.80,590.83 L322.05,589.95 L322.30,589.22 L322.55,588.62 L322.80,588.17 L323.05,587.87 L323.30,587.71 L323.55,587.69 L323.80,587.83 L324.05,588.11 L324.30,588.53 L324.55,589.10 L324.80,589.82 L325.05,590.68 L325.30,591.68 L325.55,592.83 L325.80,594.11 L326.05,595.53 L326.30,597.09 L326.55,598.78 L326.80,600.59 L327.05,602.54 L327.30,604.61 L327.55,606.79 L327.80,609.10 L328.05,611.51 L328.30,614.04 L328.55,616.67 L328.80,619.39 L329.05,622.21 L329.30,625.12 L329.55,628.12 L329.80,631.19 L330.05,634.34 L330.30,637.55 L330.55,640.83 L330.80,644.17 L331.05,647.55 L331.30,650.98 L331.55,654.45 L331.80,657.94 L332.45,667.10 L332.61,667.36 L333.30,657.54 L333.55,654.00 L333.80,650.47 L334.05,646.97 L334.30,643.51 L334.55,640.08 L334.80,636.69 L335.05,633.36 L335.30,630.08 L335.55,626.87 L335.80,623.72 L336.05,620.66 L336.30,617.67 L336.55,614.77 L336.80,611.96 L337.05,609.24 L337.30,606.63 L337.55,604.13 L337.80,601.74 L338.05,599.46 L338.30,597.30 L338.55,595.27 L338.80,593.37 L339.05,591.60 L339.30,589.97 L339.55,588.48 L339.80,587.13 L340.05,585.92 L340.30,584.86 L340.55,583.95 L340.80,583.19 L341.05,582.59 L341.30,582.14 L341.55,581.84 L341.80,581.70 L342.05,581.72 L342.30,581.90 L342.55,582.23 L342.80,582.72 L343.05,583.37 L343.30,584.17 L343.55,585.12 L343.80,586.23 L344.05,587.49 L344.30,588.90 L344.55,590.46 L344.80,592.16 L345.05,594.00 L345.30,595.98 L345.55,598.09 L345.80,600.34 L346.05,602.71 L346.30,605.21 L346.55,607.83 L346.80,610.56 L347.05,613.40 L347.30,616.35 L347.55,619.39 L347.80,622.53 L348.05,625.76 L348.30,629.08 L348.55,632.47 L348.80,635.93 L349.05,639.45 L349.30,643.04 L349.55,646.68 L349.80,650.36 L350.05,654.09 L350.30,657.84 L350.71,664.00 L351.23,664.87 L351.80,656.11 L352.05,652.32 L352.30,648.55 L352.55,644.81 L352.80,641.10 L353.05,637.44 L353.30,633.82 L353.55,630.27 L353.80,626.77 L354.05,623.34 L354.30,619.99 L354.55,616.73 L354.80,613.55 L355.05,610.46 L355.30,607.47 L355.55,604.59 L355.80,601.82 L356.05,599.16 L356.30,596.63 L356.55,594.22 L356.80,591.94 L357.05,589.80 L357.30,587.79 L357.55,585.93 L357.80,584.21 L358.05,582.65 L358.30,581.23 L358.55,579.97 L358.80,578.87 L359.05,577.93 L359.30,577.16 L359.55,576.54 L359.80,576.10 L360.05,575.82 L360.30,575.70 L360.55,575.76 L360.80,575.98 L361.05,576.37 L361.30,576.93 L361.55,577.65 L361.80,578.54 L362.05,579.60 L362.30,580.81 L362.55,582.19 L362.80,583.73 L363.05,585.43 L363.30,587.27 L363.55,589.27 L363.80,591.42 L364.05,593.70 L364.30,596.13 L364.55,598.69 L364.80,601.39 L365.05,604.21 L365.30,607.15 L365.55,610.20 L365.80,613.37 L366.05,616.65 L366.30,620.02 L366.55,623.48 L366.80,627.04 L367.05,630.67 L367.30,634.38 L367.55,638.16 L367.80,642.00 L368.05,645.89 L368.30,649.83 L368.55,653.81 L368.80,657.83 L369.29,665.69 L369.59,666.23 L370.30,654.60 L370.55,650.56 L370.80,646.54 L371.05,642.56 L371.30,638.61 L371.55,634.72 L371.80,630.87 L372.05,627.09 L372.30,623.38 L372.55,619.75 L372.80,616.19 L373.05,612.73 L373.30,609.36 L373.55,606.09 L373.80,602.93 L374.05,599.88 L374.30,596.95 L374.55,594.15 L374.80,591.47 L375.05,588.93 L375.30,586.53 L375.55,584.28 L375.80,582.17 L376.05,580.22 L376.30,578.42 L376.55,576.79 L376.80,575.32 L377.05,574.01 L377.30,572.87 L377.55,571.91 L377.80,571.11 L378.05,570.50 L378.30,570.05 L378.55,569.79 L378.80,569.71 L379.05,569.80 L379.30,570.07 L379.55,570.52 L379.80,571.15 L380.05,571.96 L380.30,572.94 L380.55,574.10 L380.80,575.43 L381.05,576.93 L381.30,578.60 L381.55,580.44 L381.80,582.44 L382.05,584.59 L382.30,586.91 L382.55,589.37 L382.80,591.98 L383.05,594.74 L383.30,597.63 L383.55,600.65 L383.80,603.81 L384.05,607.08 L384.30,610.47 L384.55,613.98 L384.80,617.58 L385.05,621.29 L385.30,625.08 L385.55,628.96 L385.80,632.92 L386.05,636.95 L386.30,641.04 L386.55,645.19 L386.80,649.39 L387.05,653.63 L387.30,657.90 L387.54,662.11 L388.20,663.35 L388.55,657.31 L388.80,653.00 L389.05,648.71 L389.30,644.45 L389.55,640.22 L389.80,636.04 L390.05,631.91 L390.30,627.85 L390.55,623.85 L390.80,619.92 L391.05,616.07 L391.30,612.32 L391.55,608.66 L391.80,605.10 L392.05,601.65 L392.30,598.32 L392.55,595.11 L392.80,592.03 L393.05,589.08 L393.30,586.27 L393.55,583.60 L393.80,581.08 L394.05,578.72 L394.30,576.52 L394.55,574.48 L394.80,572.60 L395.05,570.90 L395.30,569.37 L395.55,568.02 L395.80,566.85 L396.05,565.86 L396.30,565.06 L396.55,564.44 L396.80,564.01 L397.05,563.77 L397.30,563.72 L397.55,563.85 L397.80,564.18 L398.05,564.70 L398.30,565.40 L398.55,566.29 L398.80,567.37 L399.05,568.64 L399.30,570.08 L399.55,571.71 L399.80,573.52 L400.05,575.50 L400.30,577.65 L400.55,579.97 L400.80,582.45 L401.05,585.09 L401.30,587.89 L401.55,590.84 L401.80,593.93 L402.05,597.17 L402.30,600.54 L402.55,604.03 L402.80,607.65 L403.05,611.38 L403.30,615.22 L403.55,619.17 L403.80,623.21 L404.05,627.34 L404.30,631.54 L404.55,635.83 L404.80,640.17 L405.05,644.58 L405.30,649.03 L405.55,653.53 L406.12,663.97 L406.56,664.85 L407.05,655.87 L407.30,651.31 L407.55,646.77 L407.80,642.27 L408.05,637.80 L408.30,633.39 L408.55,629.03 L408.80,624.74 L409.05,620.52 L409.30,616.38 L409.55,612.33 L409.80,608.37 L410.05,604.52 L410.30,600.78 L410.55,597.15 L410.80,593.65 L411.05,590.28 L411.30,587.04 L411.55,583.95 L411.80,581.01 L412.05,578.22 L412.30,575.59 L412.55,573.12 L412.80,570.82 L413.05,568.70 L413.30,566.76 L413.55,564.99 L413.80,563.41 L414.05,562.02 L414.30,560.82 L414.55,559.81 L414.80,559.00 L415.05,558.38 L415.30,557.97 L415.55,557.75 L415.80,557.73 L416.05,557.92 L416.30,558.30 L416.55,558.89 L416.80,559.67 L417.05,560.65 L417.30,561.83 L417.55,563.21 L417.80,564.77 L418.05,566.53 L418.30,568.47 L418.55,570.60 L418.80,572.91 L419.05,575.40 L419.30,578.05 L419.55,580.88 L419.80,583.87 L420.05,587.01 L420.30,590.31 L420.55,593.75 L420.80,597.33 L421.05,601.05 L421.30,604.90 L421.55,608.86 L421.80,612.94 L422.05,617.13 L422.30,621.42 L422.55,625.79 L422.80,630.25 L423.05,634.79 L423.30,639.39 L423.55,644.05 L423.80,648.77 L424.05,653.52 L424.70,666.08 L424.92,666.54 L425.55,654.34 L425.80,649.53 L426.05,644.75 L426.30,640.01 L426.55,635.30 L426.80,630.66 L427.05,626.07 L427.30,621.56 L427.55,617.12 L427.80,612.77 L428.05,608.51 L428.30,604.36 L428.55,600.32 L428.80,596.39 L429.05,592.59 L429.30,588.92 L429.55,585.39 L429.80,582.01 L430.05,578.78 L430.30,575.70 L430.55,572.79 L430.80,570.05 L431.05,567.48 L431.30,565.10 L431.55,562.89 L431.80,560.88 L432.05,559.05 L432.30,557.43 L432.55,556.00 L432.80,554.77 L433.05,553.75 L433.30,552.93 L433.55,552.32 L433.80,551.92 L434.05,551.74 L434.30,551.76 L434.55,551.99 L434.80,552.44 L435.05,553.10 L435.30,553.96 L435.55,555.04 L435.80,556.32 L436.05,557.81 L436.30,559.50 L436.55,561.39 L436.80,563.47 L437.05,565.75 L437.30,568.22 L437.55,570.88 L437.80,573.71 L438.05,576.72 L438.30,579.90 L438.55,583.24 L438.80,586.75 L439.05,590.40 L439.30,594.21 L439.55,598.15 L439.80,602.22 L440.05,606.42 L440.30,610.74 L440.55,615.17 L440.80,619.70 L441.05,624.33 L441.30,629.04 L441.55,633.83 L441.80,638.69 L442.05,643.61 L442.30,648.58 L442.55,653.60 L442.96,661.94 L443.53,663.22 L444.05,652.73 L444.30,647.67 L444.55,642.65 L444.80,637.66 L445.05,632.72 L445.30,627.84 L445.55,623.03 L445.80,618.29 L446.05,613.64 L446.30,609.08 L446.55,604.62 L446.80,600.27 L447.05,596.04 L447.30,591.94 L447.55,587.96 L447.80,584.13 L448.05,580.45 L448.30,576.92 L448.55,573.55 L448.80,570.35 L449.05,567.32 L449.30,564.47 L449.55,561.81 L449.80,559.33 L450.05,557.05 L450.30,554.97 L450.55,553.09 L450.80,551.42 L451.05,549.96 L451.30,548.71 L451.55,547.68 L451.80,546.86 L452.05,546.26 L452.30,545.88 L452.55,545.73 L452.80,545.80 L453.05,546.08 L453.30,546.60 L453.55,547.33 L453.80,548.28 L454.05,549.45 L454.30,550.84 L454.55,552.45 L454.80,554.26 L455.05,556.29 L455.30,558.52 L455.55,560.95 L455.80,563.59 L456.05,566.41 L456.30,569.42 L456.55,572.62 L456.80,576.00 L457.05,579.54 L457.30,583.25 L457.55,587.13 L457.80,591.15 L458.05,595.32 L458.30,599.63 L458.55,604.06 L458.80,608.62 L459.05,613.30 L459.30,618.08 L459.55,622.95 L459.80,627.92 L460.05,632.97 L460.30,638.08 L460.55,643.26 L460.80,648.49 L461.05,653.77 L461.54,664.22 L461.89,665.06 L462.55,651.03 L462.80,645.73 L463.05,640.46 L463.30,635.23 L463.55,630.06 L463.80,624.95 L464.05,619.91 L464.30,614.95 L464.55,610.08 L464.80,605.32 L465.05,600.66 L465.30,596.12 L465.55,591.70 L465.80,587.42 L466.05,583.28 L466.30,579.28 L466.55,575.45 L466.80,571.77 L467.05,568.27 L467.30,564.95 L467.55,561.81 L467.80,558.85 L468.05,556.09 L468.30,553.54 L468.55,551.18 L468.80,549.04 L469.05,547.11 L469.30,545.40 L469.55,543.90 L469.80,542.64 L470.05,541.59 L470.30,540.78 L470.55,540.20 L470.80,539.85 L471.05,539.73 L471.30,539.84 L471.55,540.19 L471.80,540.77 L472.05,541.58 L472.30,542.62 L472.55,543.90 L472.80,545.40 L473.05,547.12 L473.30,549.07 L473.55,551.23 L473.80,553.61 L474.05,556.20 L474.30,559.00 L474.55,562.00 L474.80,565.20 L475.05,568.58 L475.30,572.15 L475.55,575.91 L475.80,579.83 L476.05,583.92 L476.30,588.17 L476.55,592.56 L476.80,597.10 L477.05,601.78 L477.30,606.58 L477.55,611.50 L477.80,616.53 L478.05,621.66 L478.30,626.88 L478.55,632.18 L478.80,637.56 L479.05,643.00 L479.30,648.49 L479.55,654.02 L479.80,659.60 L480.51,661.35 L480.80,654.82 L481.05,649.24 L481.30,643.69 L481.55,638.18 L481.80,632.72 L482.05,627.31 L482.30,621.97 L482.55,616.71 L482.80,611.53 L483.05,606.46 L483.30,601.48 L483.55,596.63 L483.80,591.89 L484.05,587.29 L484.30,582.84 L484.55,578.53 L484.80,574.38 L485.05,570.39 L485.30,566.58 L485.55,562.95 L485.80,559.50 L486.05,556.25 L486.30,553.19 L486.55,550.34 L486.80,547.71 L487.05,545.28 L487.30,543.08 L487.55,541.10 L487.80,539.35 L488.05,537.83 L488.30,536.55 L488.55,535.50 L488.80,534.70 L489.05,534.13 L489.30,533.81 L489.55,533.73 L489.80,533.90 L490.05,534.31 L490.30,534.96 L490.55,535.85 L490.80,536.99 L491.05,538.37 L491.30,539.98 L491.55,541.83 L491.80,543.91 L492.05,546.22 L492.30,548.75 L492.55,551.50 L492.80,554.47 L493.05,557.64 L493.30,561.03 L493.55,564.61 L493.80,568.38 L494.05,572.34 L494.30,576.47 L494.55,580.78 L494.80,585.25 L495.05,589.88 L495.30,594.66 L495.55,599.58 L495.80,604.62 L496.05,609.79 L496.30,615.07 L496.55,620.45 L496.80,625.93 L497.05,631.49 L497.30,637.12 L497.55,642.82 L497.80,648.57 L498.05,654.36 L498.38,662.06 L498.87,663.32 L499.30,653.20 L499.55,647.37 L499.80,641.58 L500.05,635.82 L500.30,630.12 L500.55,624.48 L500.80,618.91 L501.05,613.43 L501.30,608.04 L501.55,602.75 L501.80,597.58 L502.05,592.52 L502.30,587.60 L502.55,582.82 L502.80,578.19 L503.05,573.72 L503.30,569.41 L503.55,565.28 L503.80,561.33 L504.05,557.57 L504.30,554.01 L504.55,550.65 L504.80,547.49 L505.05,544.56 L505.30,541.84 L505.55,539.35 L505.80,537.10 L506.05,535.07 L506.30,533.29 L506.55,531.75 L506.80,530.46 L507.05,529.41 L507.30,528.61 L507.55,528.07 L507.80,527.78 L508.05,527.75 L508.30,527.97 L508.55,528.44 L508.80,529.17 L509.05,530.15 L509.30,531.39 L509.55,532.87 L509.80,534.60 L510.05,536.57 L510.30,538.79 L510.55,541.25 L510.80,543.93 L511.05,546.85 L511.30,549.99 L511.55,553.34 L511.80,556.91 L512.05,560.69 L512.30,564.67 L512.55,568.83 L512.80,573.19 L513.05,577.72 L513.30,582.42 L513.55,587.28 L513.80,592.29 L514.05,597.45 L514.30,602.74 L514.55,608.16 L514.80,613.69 L515.05,619.33 L515.30,625.06 L515.55,630.88 L515.80,636.77 L516.05,642.73 L516.30,648.74 L516.96,664.76 L517.23,665.49 L517.80,651.49 L518.05,645.42 L518.30,639.37 L518.55,633.38 L518.80,627.44 L519.05,621.57 L519.30,615.78 L519.55,610.07 L519.80,604.47 L520.05,598.97 L520.30,593.60 L520.55,588.35 L520.80,583.24 L521.05,578.28 L521.30,573.48 L521.55,568.85 L521.80,564.39 L522.05,560.12 L522.30,556.03 L522.55,552.15 L522.80,548.47 L523.05,545.00 L523.30,541.76 L523.55,538.74 L523.80,535.95 L524.05,533.40 L524.30,531.09 L524.55,529.02 L524.80,527.21 L525.05,525.65 L525.30,524.35 L525.55,523.31 L525.80,522.53 L526.05,522.01 L526.30,521.76 L526.55,521.77 L526.80,522.05 L527.05,522.59 L527.30,523.40 L527.55,524.47 L527.80,525.81 L528.05,527.40 L528.30,529.25 L528.55,531.36 L528.80,533.72 L529.05,536.32 L529.30,539.16 L529.55,542.25 L529.80,545.56 L530.05,549.10 L530.30,552.86 L530.55,556.84 L530.80,561.02 L531.05,565.40 L531.30,569.97 L531.55,574.73 L531.80,579.66 L532.05,584.75 L532.30,590.00 L532.55,595.41 L532.80,600.94 L533.05,606.61 L533.30,612.40 L533.55,618.29 L533.80,624.28 L534.05,630.36 L534.30,636.51 L534.55,642.73 L534.80,649.00 L535.22,659.59 L535.84,661.34 L536.30,649.70 L536.55,643.37 L536.80,637.09 L537.05,630.85 L537.30,624.68 L537.55,618.58 L537.80,612.56 L538.05,606.64 L538.30,600.82 L538.55,595.12 L538.80,589.54 L539.05,584.11 L539.30,578.82 L539.55,573.68 L539.80,568.71 L540.05,563.92 L540.30,559.31 L540.55,554.90 L540.80,550.68 L541.05,546.68 L541.30,542.89 L541.55,539.32 L541.80,535.98 L542.05,532.88 L542.30,530.02 L542.55,527.41 L542.80,525.06 L543.05,522.96 L543.30,521.12 L543.55,519.54 L543.80,518.24 L544.05,517.20 L544.30,516.44 L544.55,515.95 L544.80,515.74 L545.05,515.80 L545.30,516.14 L545.55,516.76 L545.80,517.65 L546.05,518.82 L546.30,520.26 L546.55,521.97 L546.80,523.94 L547.05,526.18 L547.30,528.68 L547.55,531.44 L547.80,534.45 L548.05,537.70 L548.30,541.19 L548.55,544.92 L548.80,548.87 L549.05,553.05 L549.30,557.44 L549.55,562.03 L549.80,566.82 L550.05,571.81 L550.30,576.97 L550.55,582.30 L550.80,587.79 L551.05,593.44 L551.30,599.23 L551.55,605.15 L551.80,611.19 L552.05,617.34 L552.30,623.59 L552.55,629.92 L552.80,636.34 L553.05,642.82 L553.30,649.35 L553.80,662.46 L554.20,663.65 L554.80,647.81 L555.05,641.24 L555.30,634.72 L555.55,628.24 L555.80,621.84 L556.05,615.51 L556.30,609.27 L556.55,603.13 L556.80,597.10 L557.05,591.19 L557.30,585.42 L557.55,579.79 L557.80,574.32 L558.05,569.02 L558.30,563.88 L558.55,558.93 L558.80,554.18 L559.05,549.62 L559.30,545.28 L559.55,541.16 L559.80,537.26 L560.05,533.60 L560.30,530.17 L560.55,526.99 L560.80,524.07 L561.05,521.40 L561.30,519.00 L561.55,516.87 L561.80,515.01 L562.05,513.42 L562.30,512.12 L562.55,511.09 L562.80,510.35 L563.05,509.90 L563.30,509.73 L563.55,509.85 L563.80,510.25 L564.05,510.95 L564.30,511.93 L564.55,513.19 L564.80,514.74 L565.05,516.57 L565.30,518.67 L565.55,521.05 L565.80,523.69 L566.05,526.60 L566.30,529.78 L566.55,533.20 L566.80,536.88 L567.05,540.79 L567.30,544.94 L567.55,549.32 L567.80,553.92 L568.05,558.73 L568.30,563.75 L568.55,568.96 L568.80,574.35 L569.05,579.93 L569.30,585.66 L569.55,591.56 L569.80,597.59 L570.05,603.77 L570.30,610.06 L570.55,616.47 L570.80,622.98 L571.05,629.58 L571.30,636.25 L571.55,642.99 L571.80,649.78 L572.38,665.59 L572.56,666.15 L573.30,645.85 L573.55,639.03 L573.80,632.26 L574.05,625.55 L574.30,618.91 L574.55,612.35 L574.80,605.89 L575.05,599.54 L575.30,593.30 L575.55,587.19 L575.80,581.23 L576.05,575.41 L576.30,569.76 L576.55,564.29 L576.80,558.99 L577.05,553.89 L577.30,548.99 L577.55,544.30 L577.80,539.83 L578.05,535.59 L578.30,531.59 L578.55,527.83 L578.80,524.32 L579.05,521.07 L579.30,518.09 L579.55,515.37 L579.80,512.93 L580.05,510.76 L580.30,508.88 L580.55,507.29 L580.80,505.99 L581.05,504.98 L581.30,504.26 L581.55,503.85 L581.80,503.73 L582.05,503.90 L582.30,504.38 L582.55,505.16 L582.80,506.23 L583.05,507.59 L583.30,509.25 L583.55,511.20 L583.80,513.43 L584.05,515.95 L584.30,518.75 L584.55,521.82 L584.80,525.16 L585.05,528.76 L585.30,532.62 L585.55,536.73 L585.80,541.08 L586.05,545.66 L586.30,550.47 L586.55,555.51 L586.80,560.75 L587.05,566.19 L587.30,571.82 L587.55,577.63 L587.80,583.61 L588.05,589.75 L588.30,596.04 L588.55,602.47 L588.80,609.02 L589.05,615.69 L589.30,622.46 L589.55,629.32 L589.80,636.25 L590.05,643.25 L590.30,650.31 L590.64,659.85 L591.18,661.55 L591.55,650.89 L591.80,643.79 L592.05,636.73 L592.30,629.72 L592.55,622.77 L592.80,615.90 L593.05,609.12 L593.30,602.44 L593.55,595.87 L593.80,589.43 L594.05,583.12 L594.30,576.96 L594.55,570.97 L594.80,565.14 L595.05,559.49 L595.30,554.04 L595.55,548.79 L595.80,543.75 L596.05,538.93 L596.30,534.34 L596.55,529.99 L596.80,525.88 L597.05,522.03 L597.30,518.44 L597.55,515.12 L597.80,512.08 L598.05,509.31 L598.30,506.83 L598.55,504.64 L598.80,502.75 L599.05,501.15 L599.30,499.86 L599.55,498.86 L599.80,498.18 L600.05,497.80 L600.30,497.73 L600.55,497.98 L600.80,498.52 L601.05,499.38 L601.30,500.55 L601.55,502.02 L601.80,503.79 L602.05,505.86 L602.30,508.23 L602.55,510.90 L602.80,513.85 L603.05,517.08 L603.30,520.59 L603.55,524.37 L603.80,528.42 L604.05,532.72 L604.30,537.27 L604.55,542.07 L604.80,547.10 L605.05,552.35 L605.30,557.82 L605.55,563.49 L605.80,569.36 L606.05,575.41 L606.30,581.64 L606.55,588.03 L606.80,594.57 L607.05,601.26 L607.30,608.07 L607.55,614.99 L607.80,622.02 L608.05,629.14 L608.30,636.34 L608.55,643.61 L609.22,663.15 L609.54,664.20 L610.05,649.00 L610.30,641.65 L610.55,634.35 L610.80,627.10 L611.05,619.92 L611.30,612.82 L611.55,605.81 L611.80,598.91 L612.05,592.13 L612.30,585.48 L612.55,578.98 L612.80,572.63 L613.05,566.45 L613.30,560.45 L613.55,554.64 L613.80,549.03 L614.05,543.63 L614.30,538.45 L614.55,533.50 L614.80,528.79 L615.05,524.33 L615.30,520.13 L615.55,516.19 L615.80,512.53 L616.05,509.14 L616.30,506.04 L616.55,503.23 L616.80,500.72 L617.05,498.50 L617.30,496.60 L617.55,495.00 L617.80,493.72 L618.05,492.75 L618.30,492.10 L618.55,491.77 L618.80,491.75 L619.05,492.06 L619.30,492.69 L619.55,493.63 L619.80,494.90 L620.05,496.47 L620.30,498.37 L620.55,500.57 L620.80,503.08 L621.05,505.89 L621.30,508.99 L621.55,512.39 L621.80,516.07 L622.05,520.04 L622.30,524.27 L622.55,528.77 L622.80,533.53 L623.05,538.54 L623.30,543.78 L623.55,549.26 L623.80,554.96 L624.05,560.87 L624.30,566.98 L624.55,573.27 L624.80,579.75 L625.05,586.39 L625.30,593.19 L625.55,600.13 L625.80,607.20 L626.05,614.39 L626.30,621.68 L626.55,629.06 L626.80,636.52 L627.05,644.04 L627.47,656.94 L628.15,659.22 L628.55,647.02 L628.80,639.42 L629.05,631.88 L629.30,624.39 L629.55,616.97 L629.80,609.65 L630.05,602.42 L630.30,595.30 L630.55,588.31 L630.80,581.46 L631.05,574.76 L631.30,568.23 L631.55,561.87 L631.80,555.70 L632.05,549.72 L632.30,543.96 L632.55,538.41 L632.80,533.10 L633.05,528.03 L633.30,523.20 L633.55,518.64 L633.80,514.34 L634.05,510.32 L634.30,506.58 L634.55,503.13 L634.80,499.98 L635.05,497.13 L635.30,494.58 L635.55,492.35 L635.80,490.44 L636.05,488.85 L636.30,487.58 L636.55,486.63 L636.80,486.02 L637.05,485.74 L637.30,485.78 L637.55,486.16 L637.80,486.87 L638.05,487.90 L638.30,489.27 L638.55,490.96 L638.80,492.97 L639.05,495.31 L639.30,497.96 L639.55,500.92 L639.80,504.18 L640.05,507.75 L640.30,511.61 L640.55,515.76 L640.80,520.19 L641.05,524.89 L641.30,529.85 L641.55,535.07 L641.80,540.54 L642.05,546.24 L642.30,552.17 L642.55,558.32 L642.80,564.67 L643.05,571.21 L643.30,577.94 L643.55,584.83 L643.80,591.89 L644.05,599.09 L644.30,606.41 L644.55,613.86 L644.80,621.42 L645.05,629.06 L645.30,636.79 L645.55,644.57 L646.05,660.41 L646.51,662.00 L647.05,644.95 L647.30,637.11 L647.55,629.32 L647.80,621.60 L648.05,613.95 L648.30,606.40 L648.55,598.95 L648.80,591.62 L649.05,584.42 L649.30,577.37 L649.55,570.48 L649.80,563.76 L650.05,557.22 L650.30,550.88 L650.55,544.75 L650.80,538.83 L651.05,533.14 L651.30,527.70 L651.55,522.50 L651.80,517.57 L652.05,512.90 L652.30,508.51 L652.55,504.41 L652.80,500.60 L653.05,497.09 L653.30,493.89 L653.55,491.00 L653.80,488.43 L654.05,486.19 L654.30,484.27 L654.55,482.68 L654.80,481.43 L655.05,480.52 L655.30,479.95" stroke="#4150b6"/>
</g>
<g style="font-size:31px">
<text x="73.2" y="679.00" text-anchor="end">0</text>
<text x="73.2" y="625.56" text-anchor="end">2</text>
<text x="73.2" y="572.12" text-anchor="end">4</text>
<text x="73.2" y="518.68" text-anchor="end">6</text>
<text x="73.2" y="465.24" text-anchor="end">8</text>
<text x="73.2" y="411.80" text-anchor="end">10</text>
</g>
<g style="font-size:30.5px">
<text x="74.55" y="696.6" text-anchor="middle">0.00</text>
<text x="171.38" y="696.6" text-anchor="middle">0.05</text>
<text x="268.20" y="696.6" text-anchor="middle">0.10</text>
<text x="365.03" y="696.6" text-anchor="middle">0.15</text>
<text x="461.85" y="696.6" text-anchor="middle">0.20</text>
<text x="558.68" y="696.6" text-anchor="middle">0.25</text>
<text x="655.50" y="696.6" text-anchor="middle">0.30</text>
</g>
<line x1="139.2" y1="426" x2="165" y2="426" stroke="#dc2a1c" stroke-width="2.8"/>
<line x1="139.2" y1="466.3" x2="165" y2="466.3" stroke="#35399c" stroke-width="2.8"/>
<text x="180" y="433.9" style="font-size:21.8px">Transfer matrix</text>
<text x="180" y="471.9" style="font-size:21.8px">Effective medium</text>
<text class="it m" x="357" y="739.5" transform="translate(357,0) scale(0.92,1) translate(-357,0)" style="font-size:36px">ξ</text>
<!-- y axis label -->
<g stroke="#111" stroke-width="1.6">
<line x1="7.5" y1="596.5" x2="40.9" y2="596.5"/>
<line x1="7.5" y1="535.5" x2="40.9" y2="535.5"/>
<line x1="16.4" y1="503.4" x2="32" y2="518.4" stroke-width="1.5"/>
<line x1="16.4" y1="518.4" x2="32" y2="503.4" stroke-width="1.5"/>
</g>
<g transform="rotate(-90)" class="m">
<text class="it" x="-579" y="33" text-anchor="middle" style="font-size:34px">R</text>
<text class="it" x="-555.5" y="37.5" text-anchor="middle" style="font-size:23px">xy</text>
<text x="-473.5" y="33.1" text-anchor="middle" style="font-size:34px">10</text>
<text x="-452.5" y="19.4" text-anchor="middle" style="font-size:23px">3</text>
</g>
</svg>
</body></html>
